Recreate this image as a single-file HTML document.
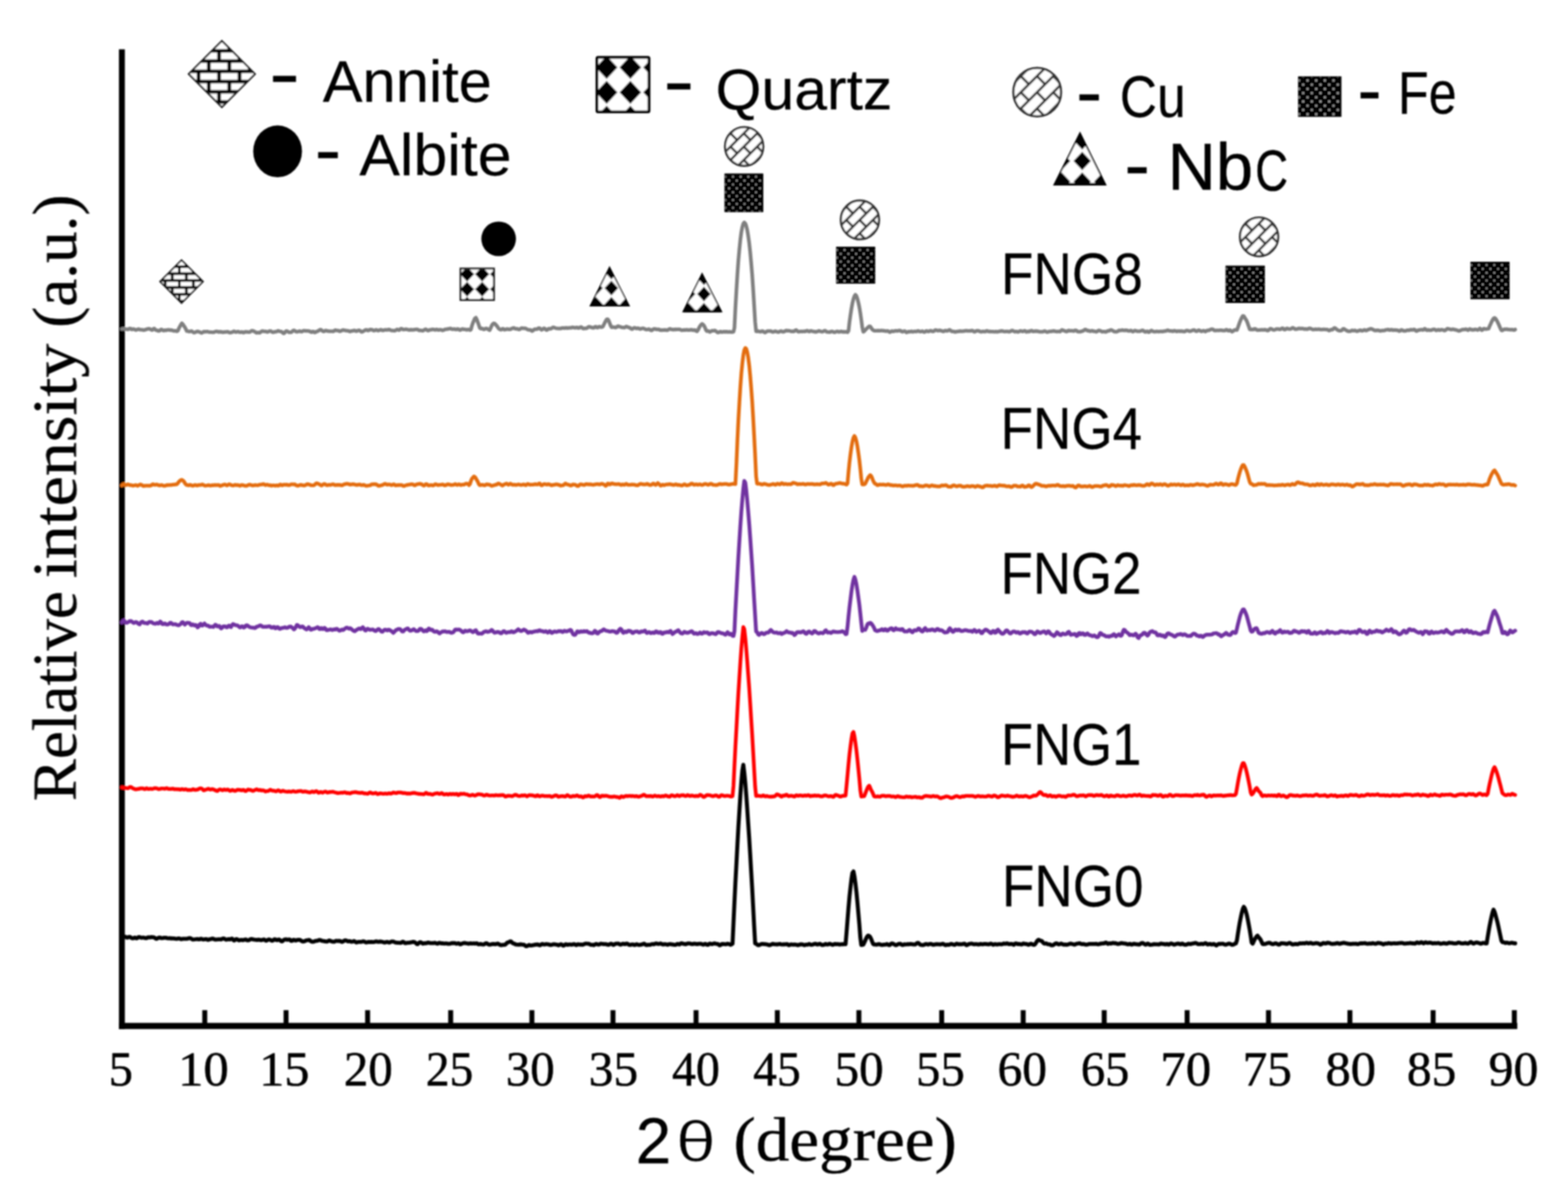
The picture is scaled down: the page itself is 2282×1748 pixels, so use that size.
<!DOCTYPE html>
<html lang="en">
<head>
<meta charset="utf-8">
<title>XRD patterns of FNG composites</title>
<style>
html,body{margin:0;padding:0;background:#fff;}
body{width:2282px;height:1748px;overflow:hidden;}
svg{display:block;}
text{font-size:100px;fill:#000;stroke:#000;stroke-linejoin:round;}
.sans{font-family:"Liberation Sans",sans-serif;stroke-width:0.35px;}
.serif{font-family:"Liberation Serif",serif;stroke-width:1px;}
.tr{fill:none;stroke-linejoin:round;stroke-linecap:round;}
</style>
</head>
<body>
<svg width="2282" height="1748" viewBox="0 0 2282 1748">
<rect x="0" y="0" width="2282" height="1748" fill="#fff"/>
<defs>
<filter id="soft" x="0" y="0" width="2282" height="1748" filterUnits="userSpaceOnUse"><feGaussianBlur stdDeviation="0.9"/></filter>
<pattern id="bk1" patternUnits="userSpaceOnUse" x="318.80" y="74.00" width="29.80" height="29.80"><rect width="29.80" height="29.80" fill="#fff"/><path d="M0 0H29.80M0 14.90H29.80M0 29.80H29.80M0 0V14.90M29.80 0V14.90M14.90 14.90V29.80" stroke="#000" stroke-width="5.2" fill="none"/></pattern>
<pattern id="dm2" patternUnits="userSpaceOnUse" x="865.65" y="79.95" width="34.50" height="36.30"><rect width="34.50" height="36.30" fill="#fff"/><path d="M17.25 1.35L32.85 18.15L17.25 34.95L1.65 18.15Z" fill="#000"/></pattern>
<pattern id="db3" patternUnits="userSpaceOnUse" x="1497.40" y="122.60" width="23.60" height="23.60"><rect width="23.60" height="23.60" fill="#fff"/><path d="M-3 26.6L26.6 -3M-14.80 14.80L14.80 -14.80M8.80 38.40L38.40 8.80M11.80 11.80L23.60 23.60M-11.80 -11.80L0 0" stroke="#333" stroke-width="3.5" fill="none"/></pattern>
<pattern id="dt4" patternUnits="userSpaceOnUse" x="1899.75" y="114.03" width="12.60" height="12.26"><rect width="12.60" height="12.26" fill="#000"/><rect x="1.65" y="1.56" width="3.0" height="3.0" fill="#b0b0b0"/><rect x="7.95" y="7.70" width="3.0" height="3.0" fill="#b0b0b0"/></pattern>
<pattern id="dm5" patternUnits="userSpaceOnUse" x="1560.00" y="219.30" width="30.00" height="30.00"><rect width="30.00" height="30.00" fill="#fff"/><path d="M15.00 1.80L27.60 15.00L15.00 28.20L2.40 15.00Z" fill="#000"/></pattern>
<pattern id="bk6" patternUnits="userSpaceOnUse" x="240.45" y="388.20" width="20.50" height="20.10"><rect width="20.50" height="20.10" fill="#fff"/><path d="M0 0H20.50M0 10.05H20.50M0 20.10H20.50M0 0V10.05M20.50 0V10.05M10.25 10.05V20.10" stroke="#000" stroke-width="3.9" fill="none"/></pattern>
<pattern id="dm7" patternUnits="userSpaceOnUse" x="668.85" y="388.05" width="21.90" height="21.90"><rect width="21.90" height="21.90" fill="#fff"/><path d="M10.95 0.35L21.15 10.95L10.95 21.55L0.75 10.95Z" fill="#000"/></pattern>
<pattern id="dm8" patternUnits="userSpaceOnUse" x="878.55" y="407.50" width="22.50" height="23.60"><rect width="22.50" height="23.60" fill="#fff"/><path d="M11.25 1.20L21.05 11.80L11.25 22.40L1.45 11.80Z" fill="#000"/></pattern>
<pattern id="dm9" patternUnits="userSpaceOnUse" x="1013.25" y="416.10" width="22.50" height="23.60"><rect width="22.50" height="23.60" fill="#fff"/><path d="M11.25 1.20L21.05 11.80L11.25 22.40L1.45 11.80Z" fill="#000"/></pattern>
<pattern id="db10" patternUnits="userSpaceOnUse" x="1072.83" y="203.82" width="19.35" height="19.35"><rect width="19.35" height="19.35" fill="#fff"/><path d="M-3 22.35L22.35 -3M-12.68 12.68L12.68 -12.68M6.68 32.03L32.03 6.68M9.68 9.68L19.35 19.35M-9.68 -9.68L0 0" stroke="#333" stroke-width="3.4" fill="none"/></pattern>
<pattern id="db11" patternUnits="userSpaceOnUse" x="1241.33" y="310.62" width="19.35" height="19.35"><rect width="19.35" height="19.35" fill="#fff"/><path d="M-3 22.35L22.35 -3M-12.68 12.68L12.68 -12.68M6.68 32.03L32.03 6.68M9.68 9.68L19.35 19.35M-9.68 -9.68L0 0" stroke="#333" stroke-width="3.4" fill="none"/></pattern>
<pattern id="db12" patternUnits="userSpaceOnUse" x="1822.23" y="335.32" width="19.35" height="19.35"><rect width="19.35" height="19.35" fill="#fff"/><path d="M-3 22.35L22.35 -3M-12.68 12.68L12.68 -12.68M6.68 32.03L32.03 6.68M9.68 9.68L19.35 19.35M-9.68 -9.68L0 0" stroke="#333" stroke-width="3.4" fill="none"/></pattern>
<pattern id="dt13" patternUnits="userSpaceOnUse" x="1063.90" y="254.38" width="11.20" height="11.30"><rect width="11.20" height="11.30" fill="#000"/><rect x="1.55" y="1.58" width="2.5" height="2.5" fill="#b0b0b0"/><rect x="7.15" y="7.23" width="2.5" height="2.5" fill="#b0b0b0"/></pattern>
<pattern id="dt14" patternUnits="userSpaceOnUse" x="1226.30" y="360.98" width="11.20" height="11.30"><rect width="11.20" height="11.30" fill="#000"/><rect x="1.55" y="1.58" width="2.5" height="2.5" fill="#b0b0b0"/><rect x="7.15" y="7.23" width="2.5" height="2.5" fill="#b0b0b0"/></pattern>
<pattern id="dt15" patternUnits="userSpaceOnUse" x="1793.10" y="388.48" width="11.20" height="11.30"><rect width="11.20" height="11.30" fill="#000"/><rect x="1.55" y="1.58" width="2.5" height="2.5" fill="#b0b0b0"/><rect x="7.15" y="7.23" width="2.5" height="2.5" fill="#b0b0b0"/></pattern>
<pattern id="dt16" patternUnits="userSpaceOnUse" x="2149.50" y="382.88" width="11.20" height="11.30"><rect width="11.20" height="11.30" fill="#000"/><rect x="1.55" y="1.58" width="2.5" height="2.5" fill="#b0b0b0"/><rect x="7.15" y="7.23" width="2.5" height="2.5" fill="#b0b0b0"/></pattern>
</defs>
<g id="chart" filter="url(#soft)">

<g id="axes" stroke="#000" fill="none">
<path d="M177.4 71.8V1497.8" stroke-width="8.6"/>
<path d="M173.1 1493.3H2208.2" stroke-width="9"/>
<path d="M298.0 1470.3V1493.3M416.3 1470.3V1493.3M535.0 1470.3V1493.3M655.9 1470.3V1493.3M774.1 1470.3V1493.3M892.1 1470.3V1493.3M1013.0 1470.3V1493.3M1131.3 1470.3V1493.3M1250.0 1470.3V1493.3M1370.5 1470.3V1493.3M1489.1 1470.3V1493.3M1607.0 1470.3V1493.3M1727.7 1470.3V1493.3M1846.1 1470.3V1493.3M1964.6 1470.3V1493.3M2085.7 1470.3V1493.3M2203.9 1470.3V1493.3" stroke-width="7.2"/>
</g>
<g id="ticklabels">
<text class="serif" transform="matrix(0.7037 0 0 0.7220 158.33 1580.3)">5</text>
<text class="serif" transform="matrix(0.7374 0 0 0.7220 259.16 1580.3)">10</text>
<text class="serif" transform="matrix(0.7316 0 0 0.7220 377.22 1580.3)">15</text>
<text class="serif" transform="matrix(0.7109 0 0 0.7220 500.46 1580.3)">20</text>
<text class="serif" transform="matrix(0.6913 0 0 0.7220 619.73 1580.3)">25</text>
<text class="serif" transform="matrix(0.7099 0 0 0.7220 736.35 1580.3)">30</text>
<text class="serif" transform="matrix(0.7209 0 0 0.7220 856.70 1580.3)">35</text>
<text class="serif" transform="matrix(0.6984 0 0 0.7220 977.90 1580.3)">40</text>
<text class="serif" transform="matrix(0.6904 0 0 0.7220 1096.17 1580.3)">45</text>
<text class="serif" transform="matrix(0.7156 0 0 0.7220 1214.51 1580.3)">50</text>
<text class="serif" transform="matrix(0.7072 0 0 0.7220 1333.31 1580.3)">55</text>
<text class="serif" transform="matrix(0.7207 0 0 0.7220 1451.82 1580.3)">60</text>
<text class="serif" transform="matrix(0.7076 0 0 0.7220 1572.97 1580.3)">65</text>
<text class="serif" transform="matrix(0.7404 0 0 0.7220 1688.82 1580.3)">70</text>
<text class="serif" transform="matrix(0.7169 0 0 0.7220 1808.48 1580.3)">75</text>
<text class="serif" transform="matrix(0.7370 0 0 0.7220 1928.95 1580.3)">80</text>
<text class="serif" transform="matrix(0.7196 0 0 0.7220 2047.42 1580.3)">85</text>
<text class="serif" transform="matrix(0.7237 0 0 0.7220 2166.53 1580.3)">90</text>
</g>
<text id="xtitle" class="serif"><tspan class="sans" x="925.37" y="1692.60" textLength="51.51" lengthAdjust="spacingAndGlyphs" style="font-size:94.00px;stroke-width:0.5px;">2</tspan><tspan class="serif" x="987.17" y="1689.20" textLength="51.00" lengthAdjust="spacingAndGlyphs" style="font-size:89.50px;stroke-width:0.9px;">ϴ</tspan> <tspan class="serif" x="1067.50" y="1689.30" textLength="325.07" lengthAdjust="spacingAndGlyphs" style="font-size:90.00px;stroke-width:0.5px;">(degree)</tspan></text>
<text id="ytitle" class="serif" transform="translate(110.5 0) rotate(-90)"><tspan class="serif" x="-1165.95" y="0.00" textLength="305.69" lengthAdjust="spacingAndGlyphs" style="font-size:92.00px;stroke-width:0.6px;">Relative</tspan> <tspan class="serif" x="-841.58" y="0.00" textLength="341.42" lengthAdjust="spacingAndGlyphs" style="font-size:92.00px;stroke-width:0.6px;">intensity</tspan> <tspan class="serif" x="-477.08" y="0.00" textLength="193.95" lengthAdjust="spacingAndGlyphs" style="font-size:92.00px;stroke-width:0.6px;">(a.u.)</tspan></text>
<path id="fng0" class="tr" stroke="#000000" stroke-width="5.8" d="M177.4 1364.1L178.8 1364.5L180.3 1363.7L181.7 1363.3L183.1 1363.8L184.6 1364.6L186.0 1364.5L187.4 1363.6L188.8 1363.6L190.3 1364.5L191.7 1365.3L193.1 1365.6L194.6 1365.3L196.0 1364.6L197.4 1365.1L198.9 1365.7L200.3 1365.0L201.7 1363.9L203.2 1364.0L204.6 1364.5L206.0 1364.8L207.5 1364.6L208.9 1364.7L210.3 1365.0L211.7 1365.4L213.2 1365.4L214.6 1364.6L216.0 1364.2L217.5 1364.3L218.9 1364.3L220.3 1363.9L221.8 1364.1L223.2 1364.2L224.6 1364.5L226.1 1365.7L227.5 1366.4L228.9 1366.0L230.3 1365.0L231.8 1364.6L233.2 1364.7L234.6 1365.3L236.1 1365.4L237.5 1365.2L238.9 1364.9L240.4 1364.8L241.8 1364.9L243.2 1365.5L244.7 1365.7L246.1 1365.6L247.5 1365.4L249.0 1365.9L250.4 1365.7L251.8 1365.8L253.2 1365.9L254.7 1366.2L256.1 1366.4L257.5 1366.4L259.0 1365.9L260.4 1365.8L261.8 1366.2L263.3 1366.9L264.7 1366.8L266.1 1366.4L267.6 1366.3L269.0 1366.4L270.4 1366.4L271.8 1366.4L273.3 1366.0L274.7 1365.6L276.1 1365.4L277.6 1365.8L279.0 1366.6L280.4 1367.3L281.9 1367.3L283.3 1367.2L284.7 1367.0L286.2 1366.8L287.6 1366.7L289.0 1367.1L290.4 1367.2L291.9 1366.5L293.3 1366.5L294.7 1367.1L296.2 1367.3L297.6 1367.2L299.0 1366.8L300.5 1366.8L301.9 1367.7L303.3 1367.9L304.8 1367.2L306.2 1366.9L307.6 1366.6L309.1 1366.1L310.5 1366.4L311.9 1367.1L313.3 1367.5L314.8 1367.4L316.2 1367.3L317.6 1367.2L319.1 1367.1L320.5 1367.1L321.9 1367.3L323.4 1366.4L324.8 1365.8L326.2 1366.0L327.7 1366.9L329.1 1367.7L330.5 1367.5L331.9 1367.0L333.4 1367.0L334.8 1367.3L336.2 1366.5L337.7 1366.1L339.1 1367.6L340.5 1368.9L342.0 1368.1L343.4 1366.9L344.8 1366.8L346.3 1367.9L347.7 1368.6L349.1 1368.3L350.6 1368.0L352.0 1368.1L353.4 1368.4L354.8 1368.0L356.3 1367.6L357.7 1367.3L359.1 1368.2L360.6 1368.7L362.0 1368.5L363.4 1367.6L364.9 1366.8L366.3 1366.7L367.7 1367.1L369.2 1367.5L370.6 1367.7L372.0 1367.8L373.4 1368.0L374.9 1368.0L376.3 1367.7L377.7 1367.9L379.2 1368.3L380.6 1368.3L382.0 1367.9L383.5 1367.4L384.9 1367.7L386.3 1368.8L387.8 1369.1L389.2 1368.2L390.6 1367.4L392.1 1367.4L393.5 1367.9L394.9 1368.8L396.3 1369.1L397.8 1368.5L399.2 1367.1L400.6 1367.1L402.1 1368.2L403.5 1368.3L404.9 1367.6L406.4 1367.5L407.8 1368.6L409.2 1369.9L410.7 1370.0L412.1 1368.9L413.5 1367.8L414.9 1367.3L416.4 1367.2L417.8 1367.8L419.2 1367.7L420.7 1367.3L422.1 1367.8L423.5 1369.4L425.0 1369.4L426.4 1368.1L427.8 1367.9L429.3 1368.7L430.7 1368.9L432.1 1368.2L433.5 1368.0L435.0 1367.9L436.4 1367.9L437.8 1368.8L439.3 1369.8L440.7 1370.3L442.1 1370.2L443.6 1369.7L445.0 1368.9L446.4 1368.7L447.9 1368.5L449.3 1368.1L450.7 1368.4L452.2 1369.7L453.6 1370.5L455.0 1370.6L456.4 1370.5L457.9 1369.9L459.3 1369.4L460.7 1369.3L462.2 1369.1L463.6 1368.5L465.0 1368.1L466.5 1368.3L467.9 1369.1L469.3 1369.5L470.8 1369.7L472.2 1370.0L473.6 1370.1L475.0 1370.3L476.5 1370.3L477.9 1369.2L479.3 1368.8L480.8 1369.4L482.2 1370.0L483.6 1370.3L485.1 1370.6L486.5 1370.6L487.9 1369.9L489.4 1369.3L490.8 1369.5L492.2 1369.6L493.7 1369.3L495.1 1369.7L496.5 1370.4L497.9 1370.9L499.4 1370.3L500.8 1369.2L502.2 1368.6L503.7 1368.8L505.1 1369.5L506.5 1370.1L508.0 1369.8L509.4 1369.9L510.8 1370.5L512.3 1370.6L513.7 1370.2L515.1 1369.7L516.5 1370.4L518.0 1371.5L519.4 1371.5L520.8 1371.0L522.3 1370.8L523.7 1370.9L525.1 1370.8L526.6 1370.6L528.0 1370.2L529.4 1370.1L530.9 1370.7L532.3 1371.6L533.7 1371.7L535.1 1371.1L536.6 1370.9L538.0 1371.1L539.4 1371.0L540.9 1370.9L542.3 1371.1L543.7 1371.2L545.2 1370.8L546.6 1370.4L548.0 1370.2L549.5 1370.7L550.9 1370.8L552.3 1370.5L553.8 1370.4L555.2 1370.7L556.6 1370.8L558.0 1371.4L559.5 1371.8L560.9 1371.6L562.3 1371.1L563.8 1371.0L565.2 1371.5L566.6 1371.8L568.1 1371.2L569.5 1370.5L570.9 1370.4L572.4 1370.3L573.8 1371.0L575.2 1371.7L576.6 1371.9L578.1 1372.1L579.5 1372.2L580.9 1372.2L582.4 1372.3L583.8 1372.2L585.2 1371.1L586.7 1370.6L588.1 1371.5L589.5 1372.7L591.0 1372.7L592.4 1372.2L593.8 1372.2L595.3 1372.2L596.7 1371.7L598.1 1371.7L599.5 1371.3L601.0 1370.9L602.4 1370.9L603.8 1371.5L605.3 1372.6L606.7 1374.0L608.1 1374.0L609.6 1372.5L611.0 1371.4L612.4 1371.4L613.9 1372.4L615.3 1373.4L616.7 1373.2L618.1 1372.7L619.6 1372.9L621.0 1372.6L622.4 1371.9L623.9 1371.9L625.3 1372.5L626.7 1372.7L628.2 1372.7L629.6 1372.7L631.0 1372.6L632.5 1372.2L633.9 1372.5L635.3 1373.2L636.8 1373.5L638.2 1372.6L639.6 1372.2L641.0 1372.6L642.5 1373.0L643.9 1372.9L645.3 1373.2L646.8 1373.3L648.2 1373.1L649.6 1373.2L651.1 1373.5L652.5 1373.6L653.9 1373.6L655.4 1373.4L656.8 1372.8L658.2 1372.5L659.6 1372.8L661.1 1372.5L662.5 1372.8L663.9 1373.6L665.4 1373.4L666.8 1372.8L668.2 1373.3L669.7 1374.4L671.1 1374.1L672.5 1373.2L674.0 1372.8L675.4 1372.5L676.8 1372.5L678.2 1372.8L679.7 1373.0L681.1 1373.4L682.5 1373.6L684.0 1373.1L685.4 1373.0L686.8 1373.3L688.3 1373.2L689.7 1373.0L691.1 1373.3L692.6 1373.1L694.0 1373.0L695.4 1373.9L696.9 1374.4L698.3 1374.1L699.7 1373.9L701.1 1374.5L702.6 1374.7L704.0 1374.6L705.4 1373.9L706.9 1372.9L708.3 1372.9L709.7 1373.9L711.2 1374.6L712.6 1374.9L714.0 1374.6L715.5 1374.2L716.9 1374.0L718.3 1374.0L719.7 1374.1L721.2 1374.3L722.6 1373.9L724.0 1373.3L725.5 1373.8L726.9 1374.8L728.3 1375.6L729.8 1375.5L731.2 1375.4L732.6 1375.2L734.1 1375.1L735.5 1374.7L736.9 1373.2L738.4 1371.9L739.8 1371.5L741.2 1370.8L742.6 1370.1L744.1 1370.6L745.5 1372.2L746.9 1373.2L748.4 1373.3L749.8 1374.4L751.2 1374.7L752.7 1374.9L754.1 1374.8L755.5 1375.0L757.0 1374.4L758.4 1374.5L759.8 1374.9L761.2 1374.8L762.7 1375.1L764.1 1376.1L765.5 1377.1L767.0 1377.1L768.4 1376.3L769.8 1375.3L771.3 1375.8L772.7 1376.1L774.1 1375.9L775.6 1375.6L777.0 1375.4L778.4 1375.0L779.9 1374.9L781.3 1374.6L782.7 1374.7L784.1 1375.4L785.6 1375.8L787.0 1375.1L788.4 1374.1L789.9 1374.0L791.3 1374.7L792.7 1374.7L794.2 1374.2L795.6 1374.2L797.0 1374.3L798.5 1374.6L799.9 1375.1L801.3 1375.4L802.7 1375.2L804.2 1374.8L805.6 1374.3L807.0 1374.4L808.5 1374.7L809.9 1374.9L811.3 1375.1L812.8 1375.8L814.2 1375.2L815.6 1374.4L817.1 1374.4L818.5 1375.6L819.9 1376.3L821.4 1375.6L822.8 1374.5L824.2 1374.5L825.6 1375.1L827.1 1375.0L828.5 1374.7L829.9 1374.7L831.4 1375.0L832.8 1374.8L834.2 1374.3L835.7 1374.1L837.1 1374.8L838.5 1375.5L840.0 1374.8L841.4 1374.3L842.8 1374.7L844.2 1374.9L845.7 1374.7L847.1 1375.0L848.5 1374.9L850.0 1374.3L851.4 1373.5L852.8 1373.3L854.3 1373.5L855.7 1373.7L857.1 1373.7L858.6 1374.6L860.0 1375.2L861.4 1375.1L862.8 1375.2L864.3 1375.6L865.7 1374.7L867.1 1373.9L868.6 1374.1L870.0 1374.7L871.4 1374.8L872.9 1374.3L874.3 1373.5L875.7 1373.7L877.2 1373.8L878.6 1374.1L880.0 1374.1L881.5 1374.2L882.9 1374.4L884.3 1374.9L885.7 1375.0L887.2 1374.3L888.6 1373.7L890.0 1373.6L891.5 1374.8L892.9 1375.3L894.3 1374.5L895.8 1373.6L897.2 1373.5L898.6 1373.3L900.1 1373.4L901.5 1374.3L902.9 1374.9L904.3 1374.5L905.8 1373.7L907.2 1373.6L908.6 1374.0L910.1 1374.1L911.5 1373.4L912.9 1373.4L914.4 1374.4L915.8 1375.2L917.2 1375.3L918.7 1374.8L920.1 1374.6L921.5 1374.6L923.0 1375.3L924.4 1375.3L925.8 1374.5L927.2 1374.5L928.7 1375.0L930.1 1375.3L931.5 1375.2L933.0 1374.9L934.4 1374.4L935.8 1373.9L937.3 1373.4L938.7 1374.3L940.1 1375.3L941.6 1375.5L943.0 1375.1L944.4 1375.1L945.8 1375.1L947.3 1374.7L948.7 1374.1L950.1 1374.1L951.6 1374.3L953.0 1373.8L954.4 1373.2L955.9 1373.4L957.3 1373.8L958.7 1373.8L960.2 1373.5L961.6 1373.2L963.0 1374.0L964.5 1374.6L965.9 1374.5L967.3 1374.2L968.7 1374.3L970.2 1374.5L971.6 1375.0L973.0 1374.5L974.5 1374.1L975.9 1374.2L977.3 1374.5L978.8 1374.6L980.2 1374.9L981.6 1375.1L983.1 1375.2L984.5 1374.6L985.9 1373.8L987.3 1374.2L988.8 1374.6L990.2 1373.6L991.6 1372.9L993.1 1373.2L994.5 1373.6L995.9 1373.9L997.4 1374.3L998.8 1374.0L1000.2 1373.4L1001.7 1373.2L1003.1 1373.1L1004.5 1373.3L1005.9 1373.9L1007.4 1374.0L1008.8 1373.9L1010.2 1373.5L1011.7 1373.6L1013.1 1373.8L1014.5 1374.1L1016.0 1373.8L1017.4 1373.6L1018.8 1373.6L1020.3 1373.7L1021.7 1374.3L1023.1 1374.8L1024.6 1374.6L1026.0 1373.7L1027.4 1374.1L1028.8 1374.9L1030.3 1375.2L1031.7 1374.1L1033.1 1373.3L1034.6 1373.7L1036.0 1374.1L1037.4 1373.7L1038.9 1373.2L1040.3 1373.1L1041.7 1373.5L1043.2 1373.8L1044.6 1373.8L1046.0 1374.8L1047.4 1375.8L1048.9 1375.2L1050.3 1374.1L1051.7 1373.9L1053.2 1374.1L1054.6 1374.2L1056.0 1374.4L1057.5 1374.1L1058.9 1373.6L1060.3 1373.8L1061.8 1374.4L1063.2 1375.0L1064.6 1374.5L1066.1 1373.6L1067.5 1343.0L1068.9 1313.1L1070.3 1284.2L1071.8 1256.3L1073.2 1229.5L1074.6 1203.9L1076.1 1180.0L1077.5 1158.0L1078.9 1138.4L1080.4 1121.6L1081.8 1113.2L1083.2 1124.6L1084.7 1140.0L1086.1 1157.7L1087.5 1177.4L1088.9 1198.4L1090.4 1220.4L1091.8 1243.6L1093.2 1268.0L1094.7 1293.5L1096.1 1319.9L1097.5 1346.7L1099.0 1373.2L1100.4 1373.5L1101.8 1374.8L1103.3 1375.6L1104.7 1375.5L1106.1 1374.9L1107.6 1374.3L1109.0 1373.9L1110.4 1373.9L1111.8 1374.1L1113.3 1374.1L1114.7 1374.3L1116.1 1374.5L1117.6 1375.1L1119.0 1375.6L1120.4 1375.5L1121.9 1375.0L1123.3 1374.2L1124.7 1373.7L1126.2 1374.2L1127.6 1374.4L1129.0 1374.4L1130.4 1374.5L1131.9 1374.5L1133.3 1374.2L1134.7 1373.8L1136.2 1374.3L1137.6 1374.7L1139.0 1374.6L1140.5 1374.4L1141.9 1374.5L1143.3 1374.3L1144.8 1374.1L1146.2 1374.4L1147.6 1375.5L1149.0 1375.5L1150.5 1374.7L1151.9 1374.5L1153.3 1374.8L1154.8 1374.8L1156.2 1374.7L1157.6 1374.8L1159.1 1375.0L1160.5 1375.5L1161.9 1375.5L1163.4 1374.9L1164.8 1374.4L1166.2 1374.3L1167.7 1374.6L1169.1 1375.1L1170.5 1375.7L1171.9 1375.2L1173.4 1374.8L1174.8 1375.0L1176.2 1374.7L1177.7 1374.0L1179.1 1374.6L1180.5 1375.2L1182.0 1375.0L1183.4 1374.5L1184.8 1374.0L1186.3 1373.6L1187.7 1373.9L1189.1 1374.6L1190.5 1374.6L1192.0 1373.8L1193.4 1373.7L1194.8 1374.6L1196.3 1375.3L1197.7 1375.3L1199.1 1375.0L1200.6 1374.3L1202.0 1373.9L1203.4 1374.7L1204.9 1374.7L1206.3 1373.9L1207.7 1373.6L1209.2 1374.2L1210.6 1374.8L1212.0 1375.2L1213.4 1374.5L1214.9 1373.9L1216.3 1374.3L1217.7 1374.1L1219.2 1374.1L1220.6 1374.4L1222.0 1374.8L1223.5 1374.4L1224.9 1374.4L1226.3 1374.2L1227.8 1374.3L1229.2 1373.9L1230.6 1374.2L1232.0 1357.6L1233.5 1338.5L1234.9 1320.9L1236.3 1305.1L1237.8 1291.2L1239.2 1279.3L1240.6 1270.4L1242.1 1268.4L1243.5 1275.3L1244.9 1285.4L1246.4 1298.1L1247.8 1312.7L1249.2 1328.7L1250.7 1346.0L1252.1 1364.7L1253.5 1375.3L1254.9 1375.3L1256.4 1374.8L1257.8 1372.1L1259.2 1369.0L1260.7 1365.5L1262.1 1363.0L1263.5 1361.6L1265.0 1362.4L1266.4 1363.7L1267.8 1366.5L1269.3 1370.5L1270.7 1373.9L1272.1 1374.6L1273.5 1374.6L1275.0 1374.8L1276.4 1374.8L1277.8 1374.4L1279.3 1374.1L1280.7 1374.6L1282.1 1375.0L1283.6 1375.4L1285.0 1375.2L1286.4 1374.9L1287.9 1374.9L1289.3 1374.7L1290.7 1374.0L1292.1 1374.7L1293.6 1375.6L1295.0 1375.4L1296.4 1373.9L1297.9 1373.2L1299.3 1373.4L1300.7 1374.1L1302.2 1375.0L1303.6 1375.7L1305.0 1375.5L1306.5 1374.4L1307.9 1373.8L1309.3 1373.6L1310.8 1373.9L1312.2 1375.0L1313.6 1375.4L1315.0 1374.9L1316.5 1374.3L1317.9 1374.7L1319.3 1374.5L1320.8 1374.2L1322.2 1374.5L1323.6 1374.2L1325.1 1373.8L1326.5 1374.2L1327.9 1374.4L1329.4 1374.5L1330.8 1374.7L1332.2 1374.6L1333.6 1373.4L1335.1 1372.3L1336.5 1372.3L1337.9 1373.7L1339.4 1374.9L1340.8 1375.3L1342.2 1375.5L1343.7 1375.4L1345.1 1375.0L1346.5 1374.2L1348.0 1374.0L1349.4 1374.3L1350.8 1374.8L1352.3 1374.3L1353.7 1373.8L1355.1 1373.8L1356.5 1374.6L1358.0 1375.0L1359.4 1374.9L1360.8 1374.5L1362.3 1374.4L1363.7 1374.2L1365.1 1374.3L1366.6 1374.4L1368.0 1374.7L1369.4 1374.4L1370.9 1373.9L1372.3 1373.7L1373.7 1374.2L1375.1 1375.4L1376.6 1375.5L1378.0 1375.0L1379.4 1375.0L1380.9 1375.2L1382.3 1374.4L1383.7 1373.9L1385.2 1374.0L1386.6 1374.5L1388.0 1374.9L1389.5 1375.2L1390.9 1374.2L1392.3 1373.4L1393.8 1374.0L1395.2 1374.4L1396.6 1374.1L1398.0 1374.4L1399.5 1374.4L1400.9 1374.0L1402.3 1373.7L1403.8 1373.5L1405.2 1374.7L1406.6 1375.7L1408.1 1375.3L1409.5 1374.2L1410.9 1373.9L1412.4 1373.5L1413.8 1373.3L1415.2 1373.7L1416.6 1374.1L1418.1 1374.4L1419.5 1374.1L1420.9 1374.2L1422.4 1374.3L1423.8 1374.6L1425.2 1374.5L1426.7 1374.0L1428.1 1374.0L1429.5 1374.3L1431.0 1374.3L1432.4 1373.9L1433.8 1373.9L1435.2 1374.0L1436.7 1374.2L1438.1 1374.5L1439.5 1374.3L1441.0 1373.6L1442.4 1373.5L1443.8 1374.2L1445.3 1375.0L1446.7 1374.5L1448.1 1374.1L1449.6 1374.3L1451.0 1374.6L1452.4 1374.5L1453.9 1374.2L1455.3 1374.1L1456.7 1374.3L1458.1 1374.4L1459.6 1373.8L1461.0 1373.2L1462.4 1373.6L1463.9 1373.6L1465.3 1373.0L1466.7 1373.3L1468.2 1374.1L1469.6 1374.1L1471.0 1373.8L1472.5 1373.8L1473.9 1374.6L1475.3 1375.1L1476.7 1374.0L1478.2 1373.1L1479.6 1373.4L1481.0 1374.0L1482.5 1374.0L1483.9 1373.9L1485.3 1374.4L1486.8 1374.7L1488.2 1373.9L1489.6 1373.2L1491.1 1373.6L1492.5 1374.0L1493.9 1373.8L1495.4 1374.5L1496.8 1375.1L1498.2 1374.6L1499.6 1373.6L1501.1 1373.6L1502.5 1374.5L1503.9 1375.0L1505.4 1375.1L1506.8 1373.8L1508.2 1371.5L1509.7 1369.1L1511.1 1367.9L1512.5 1368.2L1514.0 1369.0L1515.4 1369.3L1516.8 1370.2L1518.2 1372.1L1519.7 1373.4L1521.1 1373.3L1522.5 1373.0L1524.0 1373.8L1525.4 1374.4L1526.8 1374.4L1528.3 1374.6L1529.7 1375.7L1531.1 1375.8L1532.6 1375.6L1534.0 1374.6L1535.4 1373.6L1536.9 1373.0L1538.3 1373.2L1539.7 1374.1L1541.1 1374.5L1542.6 1373.9L1544.0 1373.3L1545.4 1373.8L1546.9 1374.5L1548.3 1374.8L1549.7 1374.6L1551.2 1374.9L1552.6 1375.0L1554.0 1374.7L1555.5 1374.2L1556.9 1373.6L1558.3 1373.4L1559.7 1373.8L1561.2 1374.0L1562.6 1374.7L1564.0 1374.8L1565.5 1374.2L1566.9 1373.5L1568.3 1373.3L1569.8 1373.1L1571.2 1372.8L1572.6 1373.5L1574.1 1374.1L1575.5 1374.1L1576.9 1374.0L1578.3 1374.3L1579.8 1374.8L1581.2 1374.8L1582.6 1374.6L1584.1 1374.2L1585.5 1373.8L1586.9 1373.8L1588.4 1373.8L1589.8 1373.9L1591.2 1373.9L1592.7 1373.9L1594.1 1373.9L1595.5 1373.7L1597.0 1374.1L1598.4 1374.4L1599.8 1374.0L1601.2 1373.5L1602.7 1373.5L1604.1 1373.2L1605.5 1373.0L1607.0 1373.0L1608.4 1372.1L1609.8 1371.8L1611.3 1373.2L1612.7 1373.8L1614.1 1373.0L1615.6 1373.1L1617.0 1373.3L1618.4 1372.8L1619.8 1372.4L1621.3 1372.8L1622.7 1372.7L1624.1 1372.9L1625.6 1373.4L1627.0 1373.9L1628.4 1373.7L1629.9 1373.2L1631.3 1372.7L1632.7 1372.6L1634.2 1373.0L1635.6 1373.2L1637.0 1373.4L1638.5 1373.4L1639.9 1373.9L1641.3 1374.4L1642.7 1374.3L1644.2 1373.7L1645.6 1374.1L1647.0 1374.8L1648.5 1374.4L1649.9 1373.7L1651.3 1373.7L1652.8 1374.2L1654.2 1374.4L1655.6 1374.4L1657.1 1374.8L1658.5 1374.7L1659.9 1373.7L1661.3 1372.7L1662.8 1372.5L1664.2 1373.1L1665.6 1374.2L1667.1 1374.9L1668.5 1374.4L1669.9 1373.4L1671.4 1373.7L1672.8 1374.9L1674.2 1375.2L1675.7 1375.0L1677.1 1374.8L1678.5 1374.4L1680.0 1374.2L1681.4 1374.4L1682.8 1374.4L1684.2 1374.4L1685.7 1374.6L1687.1 1374.5L1688.5 1373.6L1690.0 1373.3L1691.4 1373.8L1692.8 1373.8L1694.3 1374.1L1695.7 1374.6L1697.1 1374.2L1698.6 1373.8L1700.0 1374.7L1701.4 1374.8L1702.8 1373.7L1704.3 1373.2L1705.7 1373.5L1707.1 1374.3L1708.6 1374.9L1710.0 1374.6L1711.4 1374.0L1712.9 1373.7L1714.3 1373.4L1715.7 1373.3L1717.2 1374.3L1718.6 1374.3L1720.0 1373.3L1721.4 1373.6L1722.9 1374.6L1724.3 1374.9L1725.7 1375.0L1727.2 1374.6L1728.6 1374.0L1730.0 1373.5L1731.5 1373.8L1732.9 1374.1L1734.3 1373.6L1735.8 1373.2L1737.2 1373.2L1738.6 1372.6L1740.1 1372.4L1741.5 1372.9L1742.9 1373.8L1744.3 1374.1L1745.8 1374.2L1747.2 1373.8L1748.6 1373.6L1750.1 1374.0L1751.5 1374.0L1752.9 1373.3L1754.4 1372.7L1755.8 1373.3L1757.2 1374.5L1758.7 1374.5L1760.1 1373.8L1761.5 1373.9L1762.9 1374.6L1764.4 1374.6L1765.8 1374.0L1767.2 1374.1L1768.7 1375.3L1770.1 1376.1L1771.5 1375.1L1773.0 1374.1L1774.4 1373.7L1775.8 1374.0L1777.3 1373.7L1778.7 1373.6L1780.1 1373.6L1781.6 1374.3L1783.0 1374.9L1784.4 1374.8L1785.8 1374.2L1787.3 1373.8L1788.7 1373.4L1790.1 1373.8L1791.6 1374.4L1793.0 1375.1L1794.4 1374.9L1795.9 1374.4L1797.3 1373.4L1798.7 1373.1L1800.2 1368.5L1801.6 1359.0L1803.0 1350.2L1804.4 1342.1L1805.9 1334.6L1807.3 1328.2L1808.7 1323.0L1810.2 1319.8L1811.6 1321.8L1813.0 1326.0L1814.5 1331.3L1815.9 1337.9L1817.3 1345.4L1818.8 1353.6L1820.2 1362.4L1821.6 1371.8L1823.1 1373.4L1824.5 1370.4L1825.9 1367.5L1827.3 1365.1L1828.8 1363.0L1830.2 1361.8L1831.6 1363.8L1833.1 1365.6L1834.5 1367.4L1835.9 1370.5L1837.4 1373.8L1838.8 1374.1L1840.2 1374.0L1841.7 1373.8L1843.1 1373.2L1844.5 1372.8L1845.9 1372.4L1847.4 1372.2L1848.8 1372.6L1850.2 1373.5L1851.7 1374.1L1853.1 1374.1L1854.5 1373.5L1856.0 1373.0L1857.4 1373.1L1858.8 1373.9L1860.3 1374.6L1861.7 1374.9L1863.1 1374.0L1864.5 1372.9L1866.0 1372.8L1867.4 1373.0L1868.8 1373.1L1870.3 1373.3L1871.7 1373.8L1873.1 1373.8L1874.6 1373.2L1876.0 1372.5L1877.4 1372.5L1878.9 1373.3L1880.3 1374.3L1881.7 1374.6L1883.2 1374.2L1884.6 1374.0L1886.0 1373.9L1887.4 1374.2L1888.9 1374.3L1890.3 1373.5L1891.7 1372.8L1893.2 1373.1L1894.6 1373.1L1896.0 1372.8L1897.5 1372.9L1898.9 1373.1L1900.3 1372.5L1901.8 1372.2L1903.2 1372.7L1904.6 1373.1L1906.0 1372.6L1907.5 1372.2L1908.9 1372.8L1910.3 1373.5L1911.8 1373.3L1913.2 1373.1L1914.6 1372.7L1916.1 1372.7L1917.5 1373.0L1918.9 1373.1L1920.4 1374.1L1921.8 1374.8L1923.2 1374.3L1924.7 1372.9L1926.1 1372.4L1927.5 1372.9L1928.9 1373.3L1930.4 1372.9L1931.8 1372.1L1933.2 1372.2L1934.7 1372.6L1936.1 1373.1L1937.5 1373.7L1939.0 1373.8L1940.4 1373.6L1941.8 1373.6L1943.3 1373.4L1944.7 1372.9L1946.1 1372.6L1947.5 1372.9L1949.0 1373.6L1950.4 1373.5L1951.8 1372.9L1953.3 1372.8L1954.7 1372.3L1956.1 1372.2L1957.6 1372.6L1959.0 1372.9L1960.4 1373.1L1961.9 1373.7L1963.3 1373.7L1964.7 1374.0L1966.2 1373.9L1967.6 1373.8L1969.0 1373.5L1970.4 1373.7L1971.9 1373.7L1973.3 1373.5L1974.7 1373.9L1976.2 1374.1L1977.6 1373.7L1979.0 1373.1L1980.5 1373.0L1981.9 1372.9L1983.3 1373.0L1984.8 1372.8L1986.2 1372.6L1987.6 1373.0L1989.0 1373.5L1990.5 1373.7L1991.9 1373.3L1993.3 1373.2L1994.8 1373.4L1996.2 1373.4L1997.6 1372.7L1999.1 1373.0L2000.5 1373.4L2001.9 1373.7L2003.4 1373.2L2004.8 1372.5L2006.2 1372.4L2007.6 1372.6L2009.1 1373.0L2010.5 1373.1L2011.9 1373.9L2013.4 1374.5L2014.8 1373.8L2016.2 1373.3L2017.7 1373.3L2019.1 1373.3L2020.5 1372.7L2022.0 1372.9L2023.4 1373.2L2024.8 1373.5L2026.3 1373.2L2027.7 1373.0L2029.1 1372.8L2030.5 1373.1L2032.0 1373.2L2033.4 1373.1L2034.8 1372.8L2036.3 1372.7L2037.7 1372.6L2039.1 1372.3L2040.6 1372.3L2042.0 1372.9L2043.4 1373.3L2044.9 1373.4L2046.3 1373.2L2047.7 1373.0L2049.1 1372.9L2050.6 1372.9L2052.0 1372.4L2053.4 1372.7L2054.9 1373.0L2056.3 1373.0L2057.7 1373.1L2059.2 1373.3L2060.6 1372.6L2062.0 1371.6L2063.5 1371.9L2064.9 1372.7L2066.3 1372.4L2067.8 1371.5L2069.2 1371.5L2070.6 1372.5L2072.0 1373.0L2073.5 1371.8L2074.9 1371.5L2076.3 1372.1L2077.8 1372.4L2079.2 1372.1L2080.6 1372.0L2082.1 1372.1L2083.5 1372.6L2084.9 1373.1L2086.4 1372.9L2087.8 1372.6L2089.2 1372.9L2090.6 1372.9L2092.1 1372.6L2093.5 1372.5L2094.9 1373.0L2096.4 1373.6L2097.8 1373.4L2099.2 1373.1L2100.7 1372.7L2102.1 1372.7L2103.5 1373.1L2105.0 1373.5L2106.4 1373.3L2107.8 1372.5L2109.2 1372.0L2110.7 1372.3L2112.1 1372.4L2113.5 1372.5L2115.0 1372.9L2116.4 1373.2L2117.8 1373.1L2119.3 1373.2L2120.7 1372.6L2122.1 1371.9L2123.6 1371.8L2125.0 1372.4L2126.4 1373.0L2127.9 1373.2L2129.3 1373.1L2130.7 1372.9L2132.1 1372.4L2133.6 1372.7L2135.0 1373.2L2136.4 1373.3L2137.9 1372.6L2139.3 1371.5L2140.7 1371.0L2142.2 1371.9L2143.6 1373.2L2145.0 1373.4L2146.5 1372.4L2147.9 1371.8L2149.3 1371.7L2150.7 1372.1L2152.2 1372.5L2153.6 1373.0L2155.0 1373.5L2156.5 1373.1L2157.9 1372.4L2159.3 1372.3L2160.8 1372.8L2162.2 1373.2L2163.6 1373.2L2165.1 1363.9L2166.5 1355.5L2167.9 1347.6L2169.4 1340.2L2170.8 1333.6L2172.2 1328.0L2173.6 1324.0L2175.1 1327.1L2176.5 1331.7L2177.9 1336.9L2179.4 1342.6L2180.8 1348.9L2182.2 1355.5L2183.7 1362.5L2185.1 1369.1L2186.5 1371.3L2188.0 1371.2L2189.4 1371.8L2190.8 1372.5L2192.2 1372.0L2193.7 1372.1L2195.1 1372.5L2196.5 1372.9L2198.0 1372.7L2199.4 1372.1L2200.8 1372.1L2202.3 1372.7L2203.7 1372.9L2205.1 1373.0"/>
<path id="fng1" class="tr" stroke="#ff0000" stroke-width="5.4" d="M177.4 1146.0L178.8 1146.3L180.3 1146.4L181.7 1146.9L183.1 1146.8L184.6 1147.1L186.0 1147.3L187.4 1146.7L188.8 1145.4L190.3 1145.4L191.7 1146.2L193.1 1147.2L194.6 1147.9L196.0 1148.4L197.4 1148.9L198.9 1148.8L200.3 1148.3L201.7 1148.3L203.2 1147.9L204.6 1147.4L206.0 1147.5L207.5 1147.4L208.9 1147.8L210.3 1148.5L211.7 1148.3L213.2 1147.2L214.6 1147.8L216.0 1148.4L217.5 1148.2L218.9 1147.9L220.3 1148.2L221.8 1148.2L223.2 1147.8L224.6 1147.3L226.1 1147.1L227.5 1147.2L228.9 1147.7L230.3 1148.5L231.8 1148.5L233.2 1148.1L234.6 1147.7L236.1 1147.6L237.5 1147.6L238.9 1148.0L240.4 1148.1L241.8 1147.2L243.2 1147.2L244.7 1148.2L246.1 1148.4L247.5 1148.2L249.0 1148.4L250.4 1148.0L251.8 1147.8L253.2 1148.5L254.7 1148.7L256.1 1148.5L257.5 1148.9L259.0 1148.7L260.4 1148.7L261.8 1149.3L263.3 1149.0L264.7 1148.4L266.1 1148.8L267.6 1149.3L269.0 1148.9L270.4 1148.7L271.8 1149.3L273.3 1149.9L274.7 1149.7L276.1 1149.7L277.6 1149.9L279.0 1149.7L280.4 1148.8L281.9 1148.8L283.3 1149.5L284.7 1149.7L286.2 1149.3L287.6 1149.2L289.0 1148.5L290.4 1147.7L291.9 1147.4L293.3 1147.7L294.7 1148.6L296.2 1150.2L297.6 1150.1L299.0 1149.4L300.5 1149.0L301.9 1148.4L303.3 1148.0L304.8 1148.7L306.2 1149.2L307.6 1148.7L309.1 1148.5L310.5 1148.9L311.9 1149.6L313.3 1150.1L314.8 1151.0L316.2 1151.2L317.6 1150.2L319.1 1149.1L320.5 1149.0L321.9 1149.4L323.4 1150.2L324.8 1149.9L326.2 1149.0L327.7 1149.6L329.1 1149.8L330.5 1149.2L331.9 1149.2L333.4 1150.4L334.8 1151.1L336.2 1150.7L337.7 1149.6L339.1 1150.1L340.5 1150.6L342.0 1151.1L343.4 1150.7L344.8 1149.9L346.3 1149.4L347.7 1149.7L349.1 1149.6L350.6 1150.1L352.0 1150.4L353.4 1149.6L354.8 1149.6L356.3 1151.0L357.7 1151.3L359.1 1150.5L360.6 1149.3L362.0 1149.3L363.4 1149.7L364.9 1149.8L366.3 1150.4L367.7 1151.1L369.2 1150.8L370.6 1149.9L372.0 1149.5L373.4 1148.8L374.9 1149.4L376.3 1150.0L377.7 1149.8L379.2 1150.0L380.6 1150.6L382.0 1150.3L383.5 1150.4L384.9 1151.2L386.3 1152.0L387.8 1151.4L389.2 1151.4L390.6 1151.1L392.1 1150.2L393.5 1149.5L394.9 1150.2L396.3 1150.8L397.8 1150.8L399.2 1151.0L400.6 1151.6L402.1 1151.7L403.5 1150.8L404.9 1150.1L406.4 1150.9L407.8 1152.0L409.2 1152.0L410.7 1151.2L412.1 1151.0L413.5 1151.6L414.9 1151.9L416.4 1152.1L417.8 1152.3L419.2 1152.4L420.7 1151.9L422.1 1152.1L423.5 1152.5L425.0 1152.0L426.4 1151.4L427.8 1151.7L429.3 1152.3L430.7 1152.4L432.1 1152.1L433.5 1151.6L435.0 1151.5L436.4 1151.4L437.8 1151.2L439.3 1151.8L440.7 1152.4L442.1 1152.3L443.6 1151.8L445.0 1152.0L446.4 1152.4L447.9 1152.9L449.3 1153.0L450.7 1153.5L452.2 1153.0L453.6 1152.1L455.0 1152.0L456.4 1152.9L457.9 1152.7L459.3 1151.6L460.7 1151.5L462.2 1152.7L463.6 1153.8L465.0 1153.4L466.5 1152.6L467.9 1153.0L469.3 1153.7L470.8 1153.1L472.2 1152.4L473.6 1152.1L475.0 1152.7L476.5 1153.5L477.9 1153.4L479.3 1152.8L480.8 1152.8L482.2 1152.6L483.6 1152.4L485.1 1152.5L486.5 1153.0L487.9 1153.4L489.4 1153.7L490.8 1154.2L492.2 1154.2L493.7 1154.1L495.1 1153.9L496.5 1153.6L497.9 1153.7L499.4 1153.8L500.8 1153.2L502.2 1153.1L503.7 1154.0L505.1 1154.3L506.5 1154.0L508.0 1154.4L509.4 1154.9L510.8 1154.2L512.3 1153.5L513.7 1153.3L515.1 1153.1L516.5 1152.9L518.0 1153.0L519.4 1153.3L520.8 1153.7L522.3 1153.8L523.7 1154.0L525.1 1154.0L526.6 1153.7L528.0 1154.0L529.4 1154.7L530.9 1154.7L532.3 1154.8L533.7 1155.1L535.1 1155.2L536.6 1154.5L538.0 1153.4L539.4 1153.5L540.9 1154.5L542.3 1154.8L543.7 1154.7L545.2 1154.5L546.6 1153.9L548.0 1154.6L549.5 1155.7L550.9 1155.5L552.3 1154.8L553.8 1154.6L555.2 1154.8L556.6 1155.2L558.0 1155.4L559.5 1155.0L560.9 1155.0L562.3 1155.2L563.8 1155.2L565.2 1154.8L566.6 1154.5L568.1 1155.0L569.5 1155.1L570.9 1154.2L572.4 1153.5L573.8 1153.7L575.2 1154.2L576.6 1154.4L578.1 1153.9L579.5 1153.4L580.9 1153.4L582.4 1153.5L583.8 1153.5L585.2 1153.9L586.7 1154.4L588.1 1154.3L589.5 1154.3L591.0 1154.7L592.4 1155.1L593.8 1154.8L595.3 1155.0L596.7 1155.0L598.1 1154.8L599.5 1154.3L601.0 1154.3L602.4 1153.9L603.8 1154.1L605.3 1154.6L606.7 1154.9L608.1 1155.2L609.6 1155.5L611.0 1155.4L612.4 1155.6L613.9 1155.7L615.3 1155.9L616.7 1156.1L618.1 1155.4L619.6 1154.0L621.0 1154.2L622.4 1155.4L623.9 1155.7L625.3 1155.4L626.7 1155.6L628.2 1156.4L629.6 1156.5L631.0 1155.8L632.5 1155.2L633.9 1155.0L635.3 1154.6L636.8 1154.5L638.2 1155.2L639.6 1155.6L641.0 1155.2L642.5 1154.2L643.9 1154.7L645.3 1156.1L646.8 1156.4L648.2 1156.0L649.6 1155.7L651.1 1156.0L652.5 1156.6L653.9 1155.7L655.4 1155.4L656.8 1156.2L658.2 1155.9L659.6 1155.4L661.1 1156.0L662.5 1156.2L663.9 1155.5L665.4 1155.7L666.8 1157.2L668.2 1156.8L669.7 1155.5L671.1 1155.2L672.5 1155.7L674.0 1155.3L675.4 1155.1L676.8 1155.8L678.2 1156.1L679.7 1156.2L681.1 1156.9L682.5 1157.5L684.0 1157.8L685.4 1157.6L686.8 1156.9L688.3 1156.8L689.7 1157.5L691.1 1158.0L692.6 1157.5L694.0 1156.7L695.4 1156.1L696.9 1156.0L698.3 1156.1L699.7 1156.3L701.1 1156.5L702.6 1157.1L704.0 1157.8L705.4 1157.9L706.9 1157.1L708.3 1156.6L709.7 1157.0L711.2 1157.7L712.6 1157.9L714.0 1157.9L715.5 1157.6L716.9 1157.6L718.3 1157.8L719.7 1157.9L721.2 1157.3L722.6 1157.4L724.0 1157.6L725.5 1157.7L726.9 1157.5L728.3 1157.5L729.8 1157.3L731.2 1157.2L732.6 1157.3L734.1 1158.2L735.5 1159.2L736.9 1159.1L738.4 1158.3L739.8 1158.3L741.2 1158.3L742.6 1158.4L744.1 1158.7L745.5 1158.8L746.9 1158.1L748.4 1157.3L749.8 1156.8L751.2 1157.0L752.7 1157.8L754.1 1158.3L755.5 1158.6L757.0 1158.5L758.4 1158.0L759.8 1157.7L761.2 1158.0L762.7 1157.7L764.1 1157.4L765.5 1158.3L767.0 1159.0L768.4 1158.3L769.8 1157.4L771.3 1157.3L772.7 1157.5L774.1 1157.5L775.6 1157.8L777.0 1158.2L778.4 1158.9L779.9 1158.9L781.3 1157.6L782.7 1157.5L784.1 1158.7L785.6 1159.0L787.0 1158.4L788.4 1158.1L789.9 1158.0L791.3 1158.4L792.7 1158.7L794.2 1158.6L795.6 1158.6L797.0 1158.8L798.5 1158.6L799.9 1158.5L801.3 1159.1L802.7 1159.8L804.2 1159.4L805.6 1158.8L807.0 1158.2L808.5 1157.6L809.9 1157.6L811.3 1158.8L812.8 1159.8L814.2 1159.3L815.6 1158.9L817.1 1158.8L818.5 1158.8L819.9 1158.7L821.4 1159.4L822.8 1159.4L824.2 1158.2L825.6 1157.3L827.1 1157.9L828.5 1159.0L829.9 1159.6L831.4 1159.5L832.8 1158.8L834.2 1158.5L835.7 1158.8L837.1 1158.8L838.5 1158.1L840.0 1157.7L841.4 1158.7L842.8 1159.4L844.2 1159.3L845.7 1158.9L847.1 1160.0L848.5 1160.7L850.0 1159.9L851.4 1158.6L852.8 1159.0L854.3 1159.1L855.7 1158.1L857.1 1157.9L858.6 1158.9L860.0 1159.3L861.4 1159.1L862.8 1159.2L864.3 1159.4L865.7 1159.1L867.1 1158.1L868.6 1157.1L870.0 1157.6L871.4 1159.2L872.9 1160.1L874.3 1159.6L875.7 1158.3L877.2 1158.1L878.6 1158.6L880.0 1158.5L881.5 1158.1L882.9 1158.4L884.3 1158.7L885.7 1159.2L887.2 1159.6L888.6 1159.7L890.0 1159.8L891.5 1159.8L892.9 1159.4L894.3 1159.2L895.8 1159.7L897.2 1160.0L898.6 1160.0L900.1 1160.4L901.5 1161.3L902.9 1160.3L904.3 1159.0L905.8 1159.3L907.2 1160.1L908.6 1159.5L910.1 1158.6L911.5 1158.4L912.9 1158.8L914.4 1158.7L915.8 1158.4L917.2 1158.4L918.7 1158.8L920.1 1158.5L921.5 1158.6L923.0 1159.0L924.4 1159.1L925.8 1158.7L927.2 1159.0L928.7 1159.6L930.1 1159.6L931.5 1159.0L933.0 1158.5L934.4 1158.2L935.8 1157.1L937.3 1156.7L938.7 1157.6L940.1 1158.7L941.6 1158.9L943.0 1158.7L944.4 1158.8L945.8 1158.7L947.3 1158.5L948.7 1159.0L950.1 1159.3L951.6 1158.6L953.0 1157.9L954.4 1158.5L955.9 1159.0L957.3 1158.8L958.7 1158.7L960.2 1159.1L961.6 1159.4L963.0 1158.8L964.5 1158.7L965.9 1159.0L967.3 1158.4L968.7 1157.8L970.2 1158.3L971.6 1158.9L973.0 1159.4L974.5 1159.5L975.9 1158.5L977.3 1157.5L978.8 1157.6L980.2 1158.3L981.6 1158.9L983.1 1158.8L984.5 1157.9L985.9 1157.3L987.3 1158.0L988.8 1158.7L990.2 1158.1L991.6 1157.4L993.1 1157.5L994.5 1157.3L995.9 1157.9L997.4 1158.5L998.8 1158.4L1000.2 1157.3L1001.7 1157.4L1003.1 1158.4L1004.5 1158.6L1005.9 1158.0L1007.4 1157.9L1008.8 1158.3L1010.2 1158.6L1011.7 1158.9L1013.1 1158.3L1014.5 1158.5L1016.0 1158.7L1017.4 1158.2L1018.8 1156.8L1020.3 1157.1L1021.7 1158.1L1023.1 1159.4L1024.6 1160.0L1026.0 1159.2L1027.4 1157.9L1028.8 1157.3L1030.3 1157.3L1031.7 1157.4L1033.1 1157.5L1034.6 1158.0L1036.0 1158.5L1037.4 1158.8L1038.9 1158.5L1040.3 1157.9L1041.7 1157.7L1043.2 1158.0L1044.6 1158.9L1046.0 1159.7L1047.4 1159.3L1048.9 1157.8L1050.3 1157.3L1051.7 1157.6L1053.2 1158.3L1054.6 1158.6L1056.0 1158.5L1057.5 1158.1L1058.9 1158.1L1060.3 1158.3L1061.8 1158.7L1063.2 1159.2L1064.6 1159.2L1066.1 1158.8L1067.5 1143.7L1068.9 1114.5L1070.3 1086.6L1071.8 1059.6L1073.2 1033.5L1074.6 1008.6L1076.1 985.4L1077.5 963.9L1078.9 944.0L1080.4 926.5L1081.8 912.7L1083.2 915.6L1084.7 928.7L1086.1 944.7L1087.5 962.3L1088.9 981.5L1090.4 1001.9L1091.8 1023.4L1093.2 1046.0L1094.7 1069.6L1096.1 1093.8L1097.5 1118.9L1099.0 1144.9L1100.4 1158.5L1101.8 1158.0L1103.3 1158.2L1104.7 1158.3L1106.1 1158.5L1107.6 1158.9L1109.0 1158.7L1110.4 1157.7L1111.8 1158.1L1113.3 1159.0L1114.7 1159.1L1116.1 1158.5L1117.6 1159.0L1119.0 1159.4L1120.4 1159.5L1121.9 1159.4L1123.3 1159.6L1124.7 1159.2L1126.2 1159.2L1127.6 1158.8L1129.0 1157.8L1130.4 1156.1L1131.9 1156.4L1133.3 1157.2L1134.7 1157.6L1136.2 1158.9L1137.6 1159.4L1139.0 1158.1L1140.5 1157.8L1141.9 1158.1L1143.3 1157.1L1144.8 1156.6L1146.2 1157.9L1147.6 1158.8L1149.0 1158.5L1150.5 1158.1L1151.9 1158.2L1153.3 1158.4L1154.8 1159.2L1156.2 1159.4L1157.6 1158.1L1159.1 1157.4L1160.5 1158.2L1161.9 1158.4L1163.4 1157.7L1164.8 1157.6L1166.2 1157.9L1167.7 1158.3L1169.1 1158.4L1170.5 1157.8L1171.9 1157.6L1173.4 1158.2L1174.8 1157.9L1176.2 1157.3L1177.7 1157.8L1179.1 1158.8L1180.5 1158.5L1182.0 1158.3L1183.4 1158.3L1184.8 1158.0L1186.3 1157.8L1187.7 1158.2L1189.1 1158.2L1190.5 1157.9L1192.0 1158.2L1193.4 1158.7L1194.8 1159.1L1196.3 1159.1L1197.7 1158.6L1199.1 1158.0L1200.6 1157.8L1202.0 1157.8L1203.4 1158.3L1204.9 1158.8L1206.3 1159.1L1207.7 1158.8L1209.2 1158.6L1210.6 1158.9L1212.0 1159.8L1213.4 1159.6L1214.9 1157.7L1216.3 1156.9L1217.7 1157.4L1219.2 1157.9L1220.6 1158.1L1222.0 1159.3L1223.5 1159.4L1224.9 1158.8L1226.3 1158.1L1227.8 1158.3L1229.2 1158.1L1230.6 1158.1L1232.0 1143.8L1233.5 1127.4L1234.9 1112.0L1236.3 1098.0L1237.8 1085.6L1239.2 1075.3L1240.6 1067.4L1242.1 1065.4L1243.5 1071.7L1244.9 1080.9L1246.4 1092.1L1247.8 1104.7L1249.2 1118.6L1250.7 1133.8L1252.1 1150.3L1253.5 1159.4L1254.9 1159.2L1256.4 1158.8L1257.8 1158.7L1259.2 1155.2L1260.7 1151.3L1262.1 1147.9L1263.5 1144.9L1265.0 1143.5L1266.4 1146.5L1267.8 1149.8L1269.3 1152.3L1270.7 1155.5L1272.1 1159.1L1273.5 1159.4L1275.0 1159.5L1276.4 1159.4L1277.8 1158.9L1279.3 1159.6L1280.7 1159.6L1282.1 1158.8L1283.6 1158.2L1285.0 1158.1L1286.4 1158.1L1287.9 1158.6L1289.3 1159.0L1290.7 1158.6L1292.1 1158.4L1293.6 1158.6L1295.0 1158.4L1296.4 1159.0L1297.9 1159.5L1299.3 1159.1L1300.7 1159.1L1302.2 1159.8L1303.6 1160.2L1305.0 1159.5L1306.5 1158.8L1307.9 1159.0L1309.3 1159.8L1310.8 1159.9L1312.2 1160.2L1313.6 1160.4L1315.0 1160.4L1316.5 1160.4L1317.9 1159.8L1319.3 1159.2L1320.8 1159.7L1322.2 1160.0L1323.6 1159.6L1325.1 1159.7L1326.5 1160.6L1327.9 1160.2L1329.4 1160.1L1330.8 1159.9L1332.2 1159.7L1333.6 1160.1L1335.1 1160.6L1336.5 1160.4L1337.9 1160.3L1339.4 1161.0L1340.8 1161.0L1342.2 1161.0L1343.7 1159.9L1345.1 1159.1L1346.5 1158.7L1348.0 1158.4L1349.4 1158.6L1350.8 1158.9L1352.3 1159.0L1353.7 1159.2L1355.1 1159.5L1356.5 1159.0L1358.0 1158.5L1359.4 1158.8L1360.8 1159.3L1362.3 1159.2L1363.7 1159.0L1365.1 1159.5L1366.6 1160.6L1368.0 1161.5L1369.4 1161.7L1370.9 1161.1L1372.3 1160.6L1373.7 1160.4L1375.1 1159.8L1376.6 1159.2L1378.0 1159.1L1379.4 1159.5L1380.9 1159.9L1382.3 1160.6L1383.7 1161.3L1385.2 1161.3L1386.6 1160.9L1388.0 1160.4L1389.5 1159.5L1390.9 1158.8L1392.3 1158.6L1393.8 1159.0L1395.2 1159.8L1396.6 1160.3L1398.0 1160.1L1399.5 1159.4L1400.9 1159.0L1402.3 1159.3L1403.8 1159.0L1405.2 1158.4L1406.6 1158.4L1408.1 1158.4L1409.5 1158.4L1410.9 1158.6L1412.4 1158.4L1413.8 1158.4L1415.2 1158.5L1416.6 1158.7L1418.1 1159.2L1419.5 1159.8L1420.9 1159.2L1422.4 1158.7L1423.8 1158.4L1425.2 1158.8L1426.7 1159.2L1428.1 1159.2L1429.5 1159.0L1431.0 1159.1L1432.4 1159.4L1433.8 1159.4L1435.2 1159.4L1436.7 1158.8L1438.1 1158.1L1439.5 1158.5L1441.0 1158.7L1442.4 1159.2L1443.8 1159.5L1445.3 1158.6L1446.7 1157.8L1448.1 1158.1L1449.6 1158.7L1451.0 1159.8L1452.4 1160.4L1453.9 1159.9L1455.3 1159.0L1456.7 1158.3L1458.1 1157.8L1459.6 1158.2L1461.0 1158.4L1462.4 1158.7L1463.9 1158.7L1465.3 1158.3L1466.7 1157.9L1468.2 1158.5L1469.6 1158.9L1471.0 1158.9L1472.5 1159.7L1473.9 1159.9L1475.3 1159.4L1476.7 1159.4L1478.2 1158.7L1479.6 1158.0L1481.0 1158.6L1482.5 1159.2L1483.9 1159.3L1485.3 1158.9L1486.8 1159.0L1488.2 1159.3L1489.6 1159.2L1491.1 1158.6L1492.5 1158.3L1493.9 1158.7L1495.4 1159.2L1496.8 1160.0L1498.2 1160.4L1499.6 1160.1L1501.1 1159.4L1502.5 1159.0L1503.9 1158.0L1505.4 1157.8L1506.8 1158.1L1508.2 1157.8L1509.7 1156.5L1511.1 1155.3L1512.5 1153.5L1514.0 1152.7L1515.4 1153.7L1516.8 1155.4L1518.2 1156.7L1519.7 1157.3L1521.1 1156.9L1522.5 1157.2L1524.0 1158.4L1525.4 1158.9L1526.8 1158.1L1528.3 1157.5L1529.7 1158.2L1531.1 1159.2L1532.6 1159.1L1534.0 1158.6L1535.4 1159.0L1536.9 1159.7L1538.3 1159.0L1539.7 1158.3L1541.1 1158.3L1542.6 1158.2L1544.0 1158.7L1545.4 1159.2L1546.9 1159.1L1548.3 1159.0L1549.7 1159.7L1551.2 1159.7L1552.6 1158.7L1554.0 1158.0L1555.5 1157.8L1556.9 1157.9L1558.3 1157.9L1559.7 1157.5L1561.2 1156.9L1562.6 1156.7L1564.0 1157.1L1565.5 1158.0L1566.9 1158.8L1568.3 1158.9L1569.8 1158.3L1571.2 1157.8L1572.6 1157.6L1574.1 1157.8L1575.5 1157.7L1576.9 1157.5L1578.3 1158.0L1579.8 1159.1L1581.2 1158.6L1582.6 1157.6L1584.1 1157.3L1585.5 1157.2L1586.9 1157.2L1588.4 1157.2L1589.8 1157.5L1591.2 1158.2L1592.7 1158.4L1594.1 1157.7L1595.5 1157.1L1597.0 1157.2L1598.4 1157.5L1599.8 1157.7L1601.2 1157.3L1602.7 1157.0L1604.1 1157.6L1605.5 1158.5L1607.0 1159.0L1608.4 1158.7L1609.8 1158.0L1611.3 1157.8L1612.7 1159.0L1614.1 1159.3L1615.6 1158.2L1617.0 1157.8L1618.4 1158.5L1619.8 1158.7L1621.3 1158.9L1622.7 1159.1L1624.1 1158.2L1625.6 1157.4L1627.0 1157.6L1628.4 1158.1L1629.9 1158.6L1631.3 1158.9L1632.7 1158.5L1634.2 1158.0L1635.6 1158.1L1637.0 1158.6L1638.5 1159.0L1639.9 1158.9L1641.3 1158.2L1642.7 1157.7L1644.2 1157.7L1645.6 1157.9L1647.0 1158.4L1648.5 1157.9L1649.9 1157.2L1651.3 1156.9L1652.8 1157.2L1654.2 1157.8L1655.6 1157.9L1657.1 1157.0L1658.5 1156.4L1659.9 1157.3L1661.3 1158.5L1662.8 1158.3L1664.2 1157.8L1665.6 1158.1L1667.1 1158.4L1668.5 1158.4L1669.9 1158.6L1671.4 1158.4L1672.8 1158.7L1674.2 1159.3L1675.7 1158.8L1677.1 1157.2L1678.5 1157.0L1680.0 1157.4L1681.4 1157.1L1682.8 1157.3L1684.2 1158.1L1685.7 1158.3L1687.1 1157.5L1688.5 1156.9L1690.0 1157.3L1691.4 1158.9L1692.8 1159.5L1694.3 1158.9L1695.7 1158.1L1697.1 1158.3L1698.6 1158.8L1700.0 1158.4L1701.4 1157.2L1702.8 1156.6L1704.3 1157.3L1705.7 1158.5L1707.1 1158.7L1708.6 1158.3L1710.0 1157.5L1711.4 1157.4L1712.9 1157.3L1714.3 1157.5L1715.7 1157.5L1717.2 1158.0L1718.6 1158.1L1720.0 1157.7L1721.4 1157.6L1722.9 1157.7L1724.3 1157.8L1725.7 1157.5L1727.2 1157.7L1728.6 1157.8L1730.0 1158.0L1731.5 1157.8L1732.9 1158.0L1734.3 1158.6L1735.8 1158.6L1737.2 1157.6L1738.6 1157.3L1740.1 1157.3L1741.5 1157.5L1742.9 1156.8L1744.3 1157.6L1745.8 1157.9L1747.2 1157.7L1748.6 1156.9L1750.1 1157.0L1751.5 1156.4L1752.9 1157.3L1754.4 1159.1L1755.8 1159.8L1757.2 1159.1L1758.7 1158.4L1760.1 1157.8L1761.5 1158.0L1762.9 1159.0L1764.4 1158.7L1765.8 1157.6L1767.2 1157.7L1768.7 1158.0L1770.1 1157.9L1771.5 1157.7L1773.0 1157.6L1774.4 1157.7L1775.8 1157.7L1777.3 1157.5L1778.7 1158.0L1780.1 1158.5L1781.6 1158.3L1783.0 1157.9L1784.4 1158.0L1785.8 1157.6L1787.3 1157.5L1788.7 1157.6L1790.1 1157.2L1791.6 1157.2L1793.0 1157.6L1794.4 1157.6L1795.9 1157.3L1797.3 1157.2L1798.7 1155.5L1800.2 1147.4L1801.6 1139.2L1803.0 1131.7L1804.4 1125.1L1805.9 1119.2L1807.3 1114.3L1808.7 1110.8L1810.2 1110.8L1811.6 1114.0L1813.0 1118.5L1814.5 1124.4L1815.9 1130.7L1817.3 1137.5L1818.8 1145.1L1820.2 1153.3L1821.6 1156.5L1823.1 1155.3L1824.5 1153.3L1825.9 1150.6L1827.3 1148.3L1828.8 1146.9L1830.2 1148.5L1831.6 1151.1L1833.1 1152.6L1834.5 1153.9L1835.9 1157.3L1837.4 1158.7L1838.8 1158.1L1840.2 1157.6L1841.7 1157.9L1843.1 1158.3L1844.5 1158.1L1845.9 1157.6L1847.4 1157.9L1848.8 1158.1L1850.2 1157.7L1851.7 1157.8L1853.1 1158.3L1854.5 1157.7L1856.0 1158.0L1857.4 1158.7L1858.8 1158.6L1860.3 1156.9L1861.7 1156.7L1863.1 1158.1L1864.5 1158.9L1866.0 1158.3L1867.4 1157.8L1868.8 1158.2L1870.3 1159.1L1871.7 1159.9L1873.1 1160.3L1874.6 1159.4L1876.0 1158.0L1877.4 1157.1L1878.9 1157.2L1880.3 1157.5L1881.7 1158.1L1883.2 1158.0L1884.6 1158.2L1886.0 1158.2L1887.4 1157.7L1888.9 1158.0L1890.3 1158.4L1891.7 1158.7L1893.2 1158.6L1894.6 1158.2L1896.0 1157.7L1897.5 1157.7L1898.9 1157.7L1900.3 1157.4L1901.8 1157.5L1903.2 1158.1L1904.6 1158.0L1906.0 1157.8L1907.5 1157.7L1908.9 1158.1L1910.3 1158.3L1911.8 1158.0L1913.2 1157.3L1914.6 1156.8L1916.1 1156.4L1917.5 1156.8L1918.9 1157.7L1920.4 1158.3L1921.8 1158.2L1923.2 1157.9L1924.7 1157.9L1926.1 1157.9L1927.5 1157.3L1928.9 1157.4L1930.4 1158.5L1931.8 1159.2L1933.2 1158.9L1934.7 1158.3L1936.1 1157.6L1937.5 1157.3L1939.0 1157.8L1940.4 1158.3L1941.8 1157.9L1943.3 1157.5L1944.7 1158.6L1946.1 1159.4L1947.5 1158.7L1949.0 1158.6L1950.4 1158.6L1951.8 1158.1L1953.3 1158.1L1954.7 1158.8L1956.1 1158.4L1957.6 1157.7L1959.0 1157.6L1960.4 1158.1L1961.9 1158.6L1963.3 1157.9L1964.7 1157.0L1966.2 1156.9L1967.6 1157.4L1969.0 1157.5L1970.4 1157.7L1971.9 1157.3L1973.3 1156.9L1974.7 1157.3L1976.2 1158.2L1977.6 1158.8L1979.0 1158.7L1980.5 1157.7L1981.9 1157.5L1983.3 1158.1L1984.8 1158.1L1986.2 1157.8L1987.6 1157.3L1989.0 1156.5L1990.5 1156.3L1991.9 1156.4L1993.3 1157.2L1994.8 1157.3L1996.2 1156.8L1997.6 1156.7L1999.1 1157.0L2000.5 1157.0L2001.9 1157.0L2003.4 1156.5L2004.8 1155.9L2006.2 1156.7L2007.6 1157.5L2009.1 1157.6L2010.5 1157.4L2011.9 1157.7L2013.4 1157.4L2014.8 1157.3L2016.2 1158.0L2017.7 1157.8L2019.1 1157.4L2020.5 1157.7L2022.0 1158.3L2023.4 1158.4L2024.8 1158.0L2026.3 1157.3L2027.7 1157.2L2029.1 1157.5L2030.5 1157.8L2032.0 1157.5L2033.4 1157.4L2034.8 1157.9L2036.3 1158.4L2037.7 1157.8L2039.1 1157.3L2040.6 1157.4L2042.0 1157.3L2043.4 1156.4L2044.9 1156.3L2046.3 1156.5L2047.7 1156.3L2049.1 1156.6L2050.6 1156.6L2052.0 1156.6L2053.4 1156.9L2054.9 1157.7L2056.3 1157.8L2057.7 1157.3L2059.2 1156.8L2060.6 1157.1L2062.0 1156.7L2063.5 1156.1L2064.9 1156.5L2066.3 1157.5L2067.8 1157.8L2069.2 1157.2L2070.6 1156.5L2072.0 1156.8L2073.5 1157.3L2074.9 1157.3L2076.3 1157.7L2077.8 1158.6L2079.2 1158.6L2080.6 1157.3L2082.1 1156.5L2083.5 1157.3L2084.9 1157.6L2086.4 1156.9L2087.8 1156.2L2089.2 1156.6L2090.6 1157.4L2092.1 1157.4L2093.5 1157.6L2094.9 1158.3L2096.4 1158.0L2097.8 1156.6L2099.2 1156.5L2100.7 1157.1L2102.1 1157.1L2103.5 1156.7L2105.0 1156.6L2106.4 1156.6L2107.8 1156.7L2109.2 1156.5L2110.7 1156.3L2112.1 1156.6L2113.5 1157.4L2115.0 1157.9L2116.4 1158.2L2117.8 1158.4L2119.3 1157.9L2120.7 1157.0L2122.1 1156.9L2123.6 1156.4L2125.0 1156.0L2126.4 1156.2L2127.9 1156.2L2129.3 1156.0L2130.7 1156.3L2132.1 1157.3L2133.6 1157.5L2135.0 1156.9L2136.4 1156.0L2137.9 1155.5L2139.3 1155.6L2140.7 1156.2L2142.2 1156.2L2143.6 1155.6L2145.0 1156.2L2146.5 1157.4L2147.9 1157.9L2149.3 1157.2L2150.7 1156.2L2152.2 1155.2L2153.6 1154.9L2155.0 1155.3L2156.5 1156.5L2157.9 1157.2L2159.3 1156.4L2160.8 1156.1L2162.2 1157.1L2163.6 1157.3L2165.1 1155.4L2166.5 1148.0L2167.9 1141.1L2169.4 1134.5L2170.8 1128.5L2172.2 1123.3L2173.6 1118.9L2175.1 1116.5L2176.5 1119.2L2177.9 1122.9L2179.4 1127.5L2180.8 1132.3L2182.2 1137.7L2183.7 1143.3L2185.1 1148.9L2186.5 1154.2L2188.0 1155.6L2189.4 1156.7L2190.8 1157.4L2192.2 1157.4L2193.7 1156.8L2195.1 1156.3L2196.5 1156.6L2198.0 1157.0L2199.4 1156.3L2200.8 1155.3L2202.3 1155.8L2203.7 1156.6L2205.1 1157.0"/>
<path id="fng2" class="tr" stroke="#7030a0" stroke-width="5.5" d="M177.4 906.0L178.8 903.9L180.3 902.9L181.7 904.7L183.1 906.3L184.6 906.4L186.0 905.8L187.4 904.9L188.8 903.9L190.3 903.9L191.7 904.5L193.1 905.8L194.6 906.8L196.0 906.1L197.4 905.3L198.9 905.7L200.3 906.9L201.7 908.0L203.2 908.7L204.6 906.4L206.0 905.1L207.5 904.8L208.9 906.2L210.3 906.8L211.7 906.7L213.2 907.1L214.6 907.5L216.0 906.0L217.5 905.1L218.9 905.4L220.3 905.3L221.8 906.4L223.2 907.3L224.6 907.6L226.1 907.9L227.5 907.0L228.9 906.5L230.3 907.6L231.8 906.8L233.2 904.7L234.6 905.9L236.1 908.2L237.5 908.4L238.9 907.4L240.4 907.4L241.8 908.7L243.2 908.9L244.7 908.8L246.1 907.9L247.5 906.6L249.0 906.5L250.4 908.1L251.8 908.8L253.2 908.4L254.7 908.4L256.1 908.9L257.5 909.5L259.0 910.0L260.4 909.9L261.8 909.0L263.3 907.9L264.7 905.7L266.1 905.5L267.6 907.2L269.0 909.0L270.4 907.7L271.8 906.5L273.3 906.6L274.7 906.6L276.1 907.0L277.6 909.4L279.0 909.9L280.4 908.7L281.9 909.6L283.3 910.5L284.7 909.6L286.2 910.6L287.6 913.2L289.0 911.9L290.4 909.0L291.9 908.0L293.3 910.4L294.7 910.6L296.2 908.8L297.6 907.5L299.0 909.1L300.5 910.2L301.9 910.5L303.3 910.8L304.8 912.1L306.2 912.3L307.6 912.1L309.1 911.9L310.5 912.5L311.9 911.1L313.3 909.3L314.8 910.0L316.2 911.7L317.6 911.6L319.1 911.0L320.5 913.1L321.9 914.7L323.4 913.4L324.8 911.8L326.2 911.6L327.7 911.8L329.1 912.8L330.5 913.1L331.9 911.2L333.4 910.6L334.8 912.0L336.2 912.6L337.7 909.8L339.1 908.3L340.5 908.8L342.0 909.8L343.4 909.9L344.8 910.1L346.3 910.8L347.7 912.1L349.1 913.2L350.6 912.6L352.0 911.4L353.4 911.8L354.8 913.4L356.3 912.6L357.7 910.6L359.1 910.0L360.6 910.6L362.0 911.8L363.4 912.6L364.9 913.1L366.3 913.4L367.7 913.4L369.2 913.5L370.6 914.1L372.0 913.6L373.4 912.2L374.9 911.8L376.3 911.4L377.7 910.5L379.2 910.2L380.6 910.9L382.0 912.1L383.5 912.4L384.9 912.2L386.3 912.2L387.8 912.3L389.2 912.0L390.6 911.8L392.1 911.5L393.5 912.2L394.9 913.5L396.3 913.6L397.8 912.5L399.2 912.4L400.6 914.5L402.1 914.1L403.5 912.7L404.9 913.2L406.4 915.0L407.8 915.3L409.2 914.4L410.7 913.9L412.1 913.8L413.5 913.4L414.9 912.9L416.4 913.7L417.8 913.8L419.2 913.3L420.7 912.3L422.1 912.0L423.5 912.1L425.0 913.3L426.4 914.6L427.8 916.0L429.3 914.8L430.7 912.2L432.1 909.5L433.5 910.1L435.0 911.5L436.4 912.8L437.8 912.7L439.3 911.8L440.7 912.0L442.1 913.5L443.6 914.7L445.0 915.5L446.4 916.1L447.9 914.7L449.3 912.8L450.7 914.3L452.2 916.6L453.6 916.3L455.0 915.2L456.4 915.3L457.9 914.9L459.3 914.2L460.7 913.8L462.2 912.8L463.6 913.6L465.0 915.6L466.5 915.4L467.9 914.1L469.3 915.5L470.8 915.6L472.2 913.9L473.6 914.8L475.0 917.1L476.5 917.2L477.9 916.7L479.3 916.6L480.8 915.9L482.2 916.3L483.6 917.0L485.1 916.4L486.5 915.9L487.9 916.3L489.4 915.2L490.8 915.5L492.2 916.8L493.7 917.9L495.1 917.8L496.5 916.8L497.9 916.2L499.4 916.9L500.8 916.0L502.2 914.7L503.7 913.7L505.1 913.5L506.5 914.2L508.0 914.9L509.4 914.3L510.8 915.0L512.3 916.3L513.7 917.5L515.1 918.4L516.5 918.7L518.0 917.4L519.4 916.5L520.8 915.8L522.3 914.8L523.7 915.1L525.1 915.6L526.6 913.9L528.0 912.9L529.4 914.6L530.9 917.1L532.3 917.7L533.7 916.1L535.1 915.1L536.6 915.9L538.0 916.7L539.4 916.4L540.9 916.4L542.3 916.1L543.7 916.9L545.2 917.9L546.6 918.4L548.0 917.8L549.5 916.2L550.9 915.5L552.3 916.3L553.8 918.0L555.2 919.3L556.6 919.4L558.0 918.1L559.5 916.7L560.9 916.4L562.3 917.1L563.8 917.6L565.2 916.5L566.6 916.8L568.1 917.6L569.5 918.6L570.9 919.6L572.4 921.1L573.8 919.7L575.2 918.2L576.6 916.8L578.1 916.3L579.5 915.5L580.9 915.4L582.4 915.7L583.8 917.3L585.2 919.1L586.7 919.1L588.1 917.6L589.5 916.3L591.0 915.7L592.4 914.8L593.8 914.8L595.3 916.8L596.7 918.1L598.1 917.9L599.5 917.3L601.0 916.4L602.4 915.8L603.8 917.3L605.3 918.3L606.7 918.6L608.1 918.4L609.6 917.4L611.0 915.5L612.4 915.2L613.9 916.1L615.3 917.7L616.7 919.0L618.1 918.4L619.6 917.4L621.0 918.6L622.4 917.5L623.9 914.8L625.3 915.5L626.7 916.9L628.2 916.4L629.6 917.0L631.0 918.7L632.5 919.4L633.9 919.4L635.3 918.8L636.8 919.4L638.2 920.8L639.6 922.0L641.0 920.9L642.5 920.0L643.9 919.1L645.3 919.2L646.8 918.8L648.2 918.9L649.6 919.7L651.1 919.8L652.5 919.7L653.9 919.5L655.4 920.4L656.8 921.0L658.2 920.7L659.6 920.1L661.1 918.4L662.5 916.4L663.9 916.2L665.4 916.5L666.8 916.4L668.2 916.2L669.7 916.9L671.1 917.9L672.5 919.6L674.0 920.3L675.4 919.5L676.8 918.0L678.2 918.3L679.7 918.8L681.1 918.5L682.5 917.9L684.0 917.5L685.4 918.2L686.8 919.1L688.3 920.1L689.7 919.4L691.1 917.9L692.6 917.3L694.0 919.8L695.4 921.8L696.9 922.3L698.3 921.9L699.7 922.1L701.1 922.4L702.6 921.3L704.0 919.9L705.4 919.3L706.9 918.8L708.3 919.1L709.7 919.7L711.2 919.4L712.6 918.9L714.0 918.2L715.5 916.9L716.9 917.8L718.3 919.7L719.7 920.9L721.2 920.6L722.6 920.1L724.0 919.7L725.5 919.9L726.9 920.4L728.3 921.6L729.8 921.8L731.2 920.1L732.6 918.7L734.1 918.8L735.5 920.4L736.9 921.1L738.4 920.4L739.8 919.9L741.2 920.1L742.6 920.0L744.1 918.8L745.5 919.2L746.9 920.3L748.4 920.1L749.8 919.1L751.2 918.4L752.7 917.2L754.1 915.9L755.5 916.8L757.0 918.0L758.4 918.5L759.8 918.0L761.2 917.1L762.7 916.3L764.1 917.1L765.5 917.9L767.0 919.3L768.4 921.0L769.8 920.6L771.3 919.7L772.7 920.0L774.1 920.6L775.6 919.5L777.0 919.4L778.4 919.0L779.9 918.8L781.3 918.4L782.7 918.8L784.1 917.7L785.6 917.3L787.0 918.4L788.4 918.4L789.9 918.7L791.3 919.5L792.7 919.4L794.2 918.6L795.6 919.5L797.0 920.7L798.5 919.9L799.9 918.5L801.3 919.3L802.7 921.2L804.2 920.9L805.6 919.5L807.0 919.0L808.5 919.4L809.9 919.8L811.3 919.2L812.8 918.6L814.2 918.7L815.6 918.5L817.1 918.8L818.5 919.9L819.9 919.4L821.4 918.1L822.8 918.4L824.2 919.1L825.6 918.6L827.1 918.0L828.5 917.7L829.9 916.7L831.4 917.6L832.8 920.7L834.2 923.3L835.7 924.1L837.1 924.0L838.5 922.0L840.0 919.1L841.4 919.1L842.8 920.2L844.2 919.5L845.7 918.8L847.1 919.6L848.5 919.3L850.0 918.5L851.4 919.2L852.8 919.1L854.3 918.6L855.7 920.0L857.1 920.9L858.6 920.7L860.0 921.6L861.4 921.8L862.8 921.6L864.3 920.0L865.7 918.1L867.1 918.9L868.6 921.8L870.0 922.0L871.4 920.5L872.9 919.2L874.3 918.6L875.7 918.3L877.2 917.0L878.6 916.0L880.0 916.8L881.5 917.9L882.9 918.1L884.3 918.4L885.7 918.7L887.2 919.3L888.6 919.3L890.0 918.7L891.5 918.6L892.9 918.9L894.3 919.0L895.8 920.2L897.2 921.1L898.6 920.5L900.1 918.0L901.5 916.3L902.9 915.0L904.3 916.2L905.8 919.4L907.2 921.1L908.6 919.5L910.1 919.1L911.5 920.2L912.9 919.4L914.4 918.0L915.8 918.2L917.2 918.5L918.7 919.3L920.1 921.2L921.5 921.2L923.0 919.8L924.4 919.3L925.8 919.1L927.2 918.9L928.7 919.9L930.1 920.7L931.5 920.3L933.0 919.0L934.4 919.2L935.8 919.3L937.3 918.3L938.7 917.8L940.1 920.0L941.6 921.3L943.0 920.6L944.4 919.9L945.8 920.8L947.3 921.6L948.7 920.8L950.1 920.4L951.6 921.3L953.0 920.8L954.4 919.0L955.9 919.3L957.3 920.7L958.7 921.1L960.2 920.0L961.6 920.1L963.0 922.1L964.5 922.5L965.9 920.9L967.3 920.4L968.7 920.7L970.2 919.7L971.6 920.0L973.0 920.4L974.5 919.0L975.9 918.4L977.3 920.9L978.8 922.8L980.2 921.8L981.6 920.3L983.1 919.4L984.5 919.1L985.9 917.9L987.3 917.3L988.8 919.3L990.2 921.0L991.6 921.8L993.1 922.2L994.5 921.1L995.9 919.6L997.4 920.1L998.8 920.9L1000.2 920.8L1001.7 920.9L1003.1 920.1L1004.5 919.6L1005.9 918.7L1007.4 918.9L1008.8 921.1L1010.2 922.3L1011.7 921.9L1013.1 921.5L1014.5 922.7L1016.0 922.6L1017.4 921.7L1018.8 920.6L1020.3 921.8L1021.7 922.3L1023.1 921.2L1024.6 920.0L1026.0 920.9L1027.4 920.7L1028.8 920.4L1030.3 920.9L1031.7 922.8L1033.1 922.9L1034.6 921.8L1036.0 921.4L1037.4 921.7L1038.9 922.0L1040.3 922.6L1041.7 923.0L1043.2 921.5L1044.6 920.0L1046.0 919.9L1047.4 920.7L1048.9 921.1L1050.3 921.8L1051.7 921.7L1053.2 922.3L1054.6 923.4L1056.0 923.8L1057.5 921.6L1058.9 920.2L1060.3 922.1L1061.8 923.5L1063.2 922.3L1064.6 922.8L1066.1 925.5L1067.5 925.6L1068.9 918.6L1070.3 888.5L1071.8 861.4L1073.2 835.8L1074.6 810.9L1076.1 786.9L1077.5 764.9L1078.9 744.9L1080.4 726.7L1081.8 711.4L1083.2 699.9L1084.7 702.5L1086.1 713.9L1087.5 728.3L1088.9 744.5L1090.4 762.7L1091.8 782.1L1093.2 802.5L1094.7 824.4L1096.1 847.7L1097.5 871.6L1099.0 895.8L1100.4 919.2L1101.8 919.9L1103.3 923.0L1104.7 924.1L1106.1 922.8L1107.6 921.5L1109.0 921.3L1110.4 922.3L1111.8 923.1L1113.3 922.3L1114.7 921.1L1116.1 920.8L1117.6 920.7L1119.0 920.0L1120.4 918.2L1121.9 916.9L1123.3 918.2L1124.7 919.8L1126.2 920.5L1127.6 920.8L1129.0 920.8L1130.4 920.5L1131.9 921.5L1133.3 921.8L1134.7 921.2L1136.2 921.3L1137.6 922.8L1139.0 922.1L1140.5 921.2L1141.9 920.9L1143.3 920.0L1144.8 918.6L1146.2 919.8L1147.6 920.4L1149.0 920.5L1150.5 920.8L1151.9 921.4L1153.3 921.1L1154.8 922.4L1156.2 924.2L1157.6 923.2L1159.1 920.9L1160.5 920.0L1161.9 920.3L1163.4 919.9L1164.8 920.6L1166.2 920.4L1167.7 919.3L1169.1 918.7L1170.5 919.9L1171.9 921.8L1173.4 922.4L1174.8 921.4L1176.2 919.4L1177.7 919.1L1179.1 920.3L1180.5 921.3L1182.0 922.1L1183.4 920.8L1184.8 918.4L1186.3 918.6L1187.7 919.9L1189.1 920.8L1190.5 921.6L1192.0 922.0L1193.4 921.1L1194.8 921.1L1196.3 921.2L1197.7 921.7L1199.1 920.6L1200.6 918.2L1202.0 917.4L1203.4 919.6L1204.9 920.8L1206.3 920.2L1207.7 920.2L1209.2 921.3L1210.6 920.5L1212.0 919.3L1213.4 919.1L1214.9 919.8L1216.3 919.7L1217.7 919.9L1219.2 920.1L1220.6 919.9L1222.0 919.7L1223.5 919.6L1224.9 919.0L1226.3 918.8L1227.8 919.7L1229.2 921.0L1230.6 923.0L1232.0 922.8L1233.5 911.9L1234.9 897.2L1236.3 884.1L1237.8 871.8L1239.2 860.6L1240.6 851.3L1242.1 843.8L1243.5 839.6L1244.9 843.5L1246.4 850.4L1247.8 859.2L1249.2 869.3L1250.7 880.4L1252.1 893.1L1253.5 906.6L1254.9 918.3L1256.4 916.2L1257.8 916.3L1259.2 916.7L1260.7 913.6L1262.1 909.3L1263.5 907.6L1265.0 907.8L1266.4 906.5L1267.8 907.2L1269.3 909.1L1270.7 911.2L1272.1 913.8L1273.5 917.3L1275.0 917.9L1276.4 918.6L1277.8 918.2L1279.3 917.4L1280.7 917.5L1282.1 916.6L1283.6 915.8L1285.0 917.3L1286.4 917.4L1287.9 915.7L1289.3 916.1L1290.7 917.9L1292.1 917.7L1293.6 916.2L1295.0 915.4L1296.4 914.6L1297.9 914.4L1299.3 916.7L1300.7 917.4L1302.2 915.7L1303.6 914.4L1305.0 916.1L1306.5 916.1L1307.9 916.0L1309.3 916.3L1310.8 916.8L1312.2 915.6L1313.6 915.8L1315.0 917.8L1316.5 919.0L1317.9 919.0L1319.3 919.0L1320.8 918.9L1322.2 917.8L1323.6 916.8L1325.1 917.8L1326.5 919.5L1327.9 920.2L1329.4 918.7L1330.8 917.2L1332.2 917.2L1333.6 917.8L1335.1 916.8L1336.5 914.8L1337.9 914.9L1339.4 917.1L1340.8 918.4L1342.2 919.2L1343.7 918.2L1345.1 915.3L1346.5 914.2L1348.0 916.6L1349.4 917.8L1350.8 917.0L1352.3 917.1L1353.7 917.4L1355.1 916.5L1356.5 916.1L1358.0 916.5L1359.4 917.6L1360.8 917.9L1362.3 917.0L1363.7 915.5L1365.1 915.6L1366.6 917.0L1368.0 917.5L1369.4 917.0L1370.9 917.5L1372.3 918.5L1373.7 919.9L1375.1 920.7L1376.6 920.3L1378.0 920.2L1379.4 919.5L1380.9 916.2L1382.3 914.5L1383.7 916.0L1385.2 918.3L1386.6 919.6L1388.0 919.1L1389.5 917.0L1390.9 916.2L1392.3 917.2L1393.8 917.4L1395.2 916.2L1396.6 916.8L1398.0 918.1L1399.5 918.5L1400.9 918.3L1402.3 917.9L1403.8 917.3L1405.2 917.1L1406.6 917.6L1408.1 917.8L1409.5 918.3L1410.9 918.4L1412.4 918.3L1413.8 918.5L1415.2 919.6L1416.6 917.9L1418.1 916.8L1419.5 918.2L1420.9 919.7L1422.4 918.7L1423.8 918.5L1425.2 917.8L1426.7 919.5L1428.1 921.5L1429.5 921.4L1431.0 918.8L1432.4 918.1L1433.8 916.6L1435.2 916.6L1436.7 917.2L1438.1 918.6L1439.5 919.2L1441.0 920.9L1442.4 921.5L1443.8 919.8L1445.3 918.3L1446.7 918.7L1448.1 921.0L1449.6 920.5L1451.0 917.4L1452.4 916.4L1453.9 918.2L1455.3 919.6L1456.7 921.3L1458.1 922.2L1459.6 922.4L1461.0 921.6L1462.4 919.9L1463.9 917.8L1465.3 917.4L1466.7 918.6L1468.2 920.4L1469.6 921.9L1471.0 922.1L1472.5 920.6L1473.9 919.5L1475.3 919.1L1476.7 919.2L1478.2 920.4L1479.6 920.8L1481.0 919.9L1482.5 920.4L1483.9 922.1L1485.3 922.1L1486.8 920.7L1488.2 920.0L1489.6 920.4L1491.1 920.0L1492.5 920.2L1493.9 921.8L1495.4 922.0L1496.8 920.3L1498.2 919.2L1499.6 919.4L1501.1 919.6L1502.5 920.2L1503.9 921.2L1505.4 923.0L1506.8 922.9L1508.2 920.8L1509.7 919.0L1511.1 919.5L1512.5 920.9L1514.0 921.4L1515.4 920.7L1516.8 919.9L1518.2 919.3L1519.7 918.9L1521.1 920.4L1522.5 921.8L1524.0 920.5L1525.4 918.8L1526.8 919.3L1528.3 922.0L1529.7 923.0L1531.1 923.7L1532.6 924.8L1534.0 925.7L1535.4 924.5L1536.9 922.3L1538.3 920.2L1539.7 921.1L1541.1 923.0L1542.6 924.1L1544.0 924.4L1545.4 922.7L1546.9 922.1L1548.3 922.7L1549.7 923.3L1551.2 922.9L1552.6 922.5L1554.0 920.4L1555.5 919.5L1556.9 921.5L1558.3 924.0L1559.7 923.6L1561.2 923.2L1562.6 923.3L1564.0 922.6L1565.5 923.5L1566.9 925.7L1568.3 924.9L1569.8 921.8L1571.2 921.2L1572.6 923.2L1574.1 923.1L1575.5 921.8L1576.9 922.1L1578.3 924.1L1579.8 924.1L1581.2 922.6L1582.6 921.9L1584.1 923.3L1585.5 924.5L1586.9 924.6L1588.4 925.1L1589.8 926.0L1591.2 925.3L1592.7 924.8L1594.1 926.0L1595.5 927.0L1597.0 927.4L1598.4 926.8L1599.8 923.9L1601.2 921.3L1602.7 922.0L1604.1 923.6L1605.5 924.1L1607.0 924.5L1608.4 925.6L1609.8 926.3L1611.3 926.2L1612.7 926.0L1614.1 926.8L1615.6 926.0L1617.0 925.4L1618.4 925.4L1619.8 923.7L1621.3 923.0L1622.7 925.0L1624.1 926.3L1625.6 924.8L1627.0 924.1L1628.4 923.2L1629.9 925.0L1631.3 925.5L1632.7 924.2L1634.2 919.4L1635.6 916.6L1637.0 917.1L1638.5 919.4L1639.9 920.3L1641.3 921.2L1642.7 922.6L1644.2 924.4L1645.6 924.1L1647.0 923.7L1648.5 924.4L1649.9 924.8L1651.3 923.4L1652.8 922.4L1654.2 924.0L1655.6 927.5L1657.1 928.7L1658.5 926.2L1659.9 924.7L1661.3 924.2L1662.8 923.2L1664.2 921.2L1665.6 920.9L1667.1 921.9L1668.5 923.8L1669.9 925.1L1671.4 923.8L1672.8 921.0L1674.2 919.6L1675.7 919.0L1677.1 918.6L1678.5 919.8L1680.0 920.3L1681.4 920.3L1682.8 921.6L1684.2 924.4L1685.7 924.9L1687.1 924.0L1688.5 923.7L1690.0 925.3L1691.4 925.5L1692.8 924.8L1694.3 926.5L1695.7 927.2L1697.1 925.6L1698.6 922.6L1700.0 921.7L1701.4 921.9L1702.8 923.2L1704.3 923.7L1705.7 924.2L1707.1 925.0L1708.6 926.2L1710.0 926.5L1711.4 925.4L1712.9 924.0L1714.3 923.5L1715.7 923.6L1717.2 923.0L1718.6 922.8L1720.0 923.7L1721.4 924.4L1722.9 923.3L1724.3 923.2L1725.7 923.9L1727.2 925.1L1728.6 925.6L1730.0 925.7L1731.5 925.3L1732.9 925.7L1734.3 924.3L1735.8 922.9L1737.2 922.2L1738.6 922.4L1740.1 923.4L1741.5 924.9L1742.9 924.9L1744.3 925.8L1745.8 926.3L1747.2 925.2L1748.6 925.7L1750.1 927.1L1751.5 926.6L1752.9 925.0L1754.4 924.4L1755.8 923.8L1757.2 923.7L1758.7 923.7L1760.1 923.8L1761.5 923.8L1762.9 923.4L1764.4 923.2L1765.8 922.0L1767.2 921.9L1768.7 921.6L1770.1 921.4L1771.5 922.2L1773.0 923.5L1774.4 923.3L1775.8 924.9L1777.3 926.2L1778.7 925.3L1780.1 924.0L1781.6 923.6L1783.0 922.3L1784.4 921.0L1785.8 922.2L1787.3 923.7L1788.7 924.1L1790.1 924.3L1791.6 923.2L1793.0 920.7L1794.4 919.7L1795.9 920.3L1797.3 921.3L1798.7 920.8L1800.2 914.8L1801.6 908.7L1803.0 903.2L1804.4 897.7L1805.9 893.1L1807.3 889.9L1808.7 887.2L1810.2 886.9L1811.6 889.3L1813.0 892.5L1814.5 896.5L1815.9 901.5L1817.3 906.9L1818.8 912.3L1820.2 917.8L1821.6 919.4L1823.1 919.1L1824.5 916.9L1825.9 915.1L1827.3 914.4L1828.8 914.2L1830.2 917.1L1831.6 920.8L1833.1 921.9L1834.5 921.9L1835.9 922.5L1837.4 922.1L1838.8 921.3L1840.2 921.7L1841.7 920.9L1843.1 920.0L1844.5 919.9L1845.9 920.3L1847.4 921.3L1848.8 921.0L1850.2 919.2L1851.7 918.1L1853.1 919.6L1854.5 921.5L1856.0 922.2L1857.4 920.2L1858.8 919.8L1860.3 919.9L1861.7 918.4L1863.1 917.2L1864.5 919.1L1866.0 920.8L1867.4 920.5L1868.8 919.2L1870.3 919.7L1871.7 920.0L1873.1 919.5L1874.6 919.4L1876.0 920.8L1877.4 921.3L1878.9 920.8L1880.3 920.9L1881.7 919.5L1883.2 918.0L1884.6 918.3L1886.0 919.3L1887.4 919.3L1888.9 920.0L1890.3 921.0L1891.7 920.8L1893.2 919.1L1894.6 918.5L1896.0 919.3L1897.5 919.0L1898.9 918.7L1900.3 920.0L1901.8 920.8L1903.2 918.9L1904.6 918.3L1906.0 920.4L1907.5 922.2L1908.9 922.2L1910.3 922.4L1911.8 921.9L1913.2 920.3L1914.6 921.0L1916.1 922.7L1917.5 921.9L1918.9 920.9L1920.4 920.7L1921.8 919.7L1923.2 919.9L1924.7 921.9L1926.1 921.8L1927.5 920.9L1928.9 921.4L1930.4 920.3L1931.8 918.3L1933.2 919.3L1934.7 921.4L1936.1 920.5L1937.5 919.9L1939.0 920.1L1940.4 920.7L1941.8 920.9L1943.3 921.8L1944.7 920.9L1946.1 921.0L1947.5 921.2L1949.0 920.5L1950.4 919.0L1951.8 918.8L1953.3 919.1L1954.7 919.5L1956.1 919.6L1957.6 920.3L1959.0 920.5L1960.4 919.7L1961.9 919.5L1963.3 920.2L1964.7 921.5L1966.2 920.9L1967.6 919.8L1969.0 920.3L1970.4 920.0L1971.9 919.0L1973.3 920.3L1974.7 921.4L1976.2 919.5L1977.6 916.7L1979.0 916.7L1980.5 918.3L1981.9 919.6L1983.3 920.1L1984.8 919.8L1986.2 919.0L1987.6 920.1L1989.0 922.7L1990.5 922.5L1991.9 919.3L1993.3 917.9L1994.8 919.4L1996.2 920.7L1997.6 919.8L1999.1 919.6L2000.5 919.5L2001.9 918.8L2003.4 917.5L2004.8 918.0L2006.2 919.1L2007.6 918.7L2009.1 918.7L2010.5 920.3L2011.9 920.5L2013.4 919.4L2014.8 918.8L2016.2 917.6L2017.7 916.4L2019.1 917.4L2020.5 918.3L2022.0 918.2L2023.4 917.0L2024.8 915.7L2026.3 917.3L2027.7 920.2L2029.1 919.9L2030.5 918.9L2032.0 919.6L2033.4 921.2L2034.8 922.4L2036.3 923.3L2037.7 923.1L2039.1 922.1L2040.6 920.7L2042.0 918.8L2043.4 917.8L2044.9 919.1L2046.3 921.0L2047.7 920.5L2049.1 917.9L2050.6 916.0L2052.0 915.8L2053.4 917.1L2054.9 917.4L2056.3 916.9L2057.7 916.8L2059.2 918.0L2060.6 918.8L2062.0 919.6L2063.5 920.5L2064.9 921.0L2066.3 920.3L2067.8 919.7L2069.2 921.2L2070.6 923.1L2072.0 921.3L2073.5 918.8L2074.9 918.9L2076.3 919.0L2077.8 919.8L2079.2 922.0L2080.6 922.2L2082.1 919.9L2083.5 919.1L2084.9 920.9L2086.4 921.4L2087.8 920.8L2089.2 920.2L2090.6 920.5L2092.1 920.8L2093.5 920.5L2094.9 920.1L2096.4 919.6L2097.8 918.9L2099.2 919.2L2100.7 920.5L2102.1 920.4L2103.5 918.1L2105.0 916.7L2106.4 918.0L2107.8 919.9L2109.2 920.5L2110.7 921.3L2112.1 922.4L2113.5 922.4L2115.0 921.7L2116.4 920.3L2117.8 919.0L2119.3 919.0L2120.7 918.9L2122.1 918.9L2123.6 919.3L2125.0 919.1L2126.4 918.1L2127.9 917.1L2129.3 918.3L2130.7 920.3L2132.1 920.0L2133.6 917.4L2135.0 917.1L2136.4 918.4L2137.9 920.3L2139.3 920.0L2140.7 918.7L2142.2 919.7L2143.6 921.5L2145.0 921.5L2146.5 920.6L2147.9 920.6L2149.3 921.4L2150.7 922.3L2152.2 922.4L2153.6 922.5L2155.0 923.1L2156.5 922.3L2157.9 920.3L2159.3 919.8L2160.8 920.6L2162.2 920.0L2163.6 919.2L2165.1 920.3L2166.5 914.5L2167.9 909.0L2169.4 903.7L2170.8 899.1L2172.2 894.5L2173.6 890.5L2175.1 888.9L2176.5 891.4L2177.9 894.2L2179.4 897.4L2180.8 901.6L2182.2 906.4L2183.7 910.8L2185.1 915.3L2186.5 921.2L2188.0 921.5L2189.4 919.7L2190.8 920.2L2192.2 922.1L2193.7 923.3L2195.1 922.6L2196.5 919.8L2198.0 917.7L2199.4 918.8L2200.8 920.5L2202.3 919.9L2203.7 918.7L2205.1 917.9"/>
<path id="fng4" class="tr" stroke="#e36c0a" stroke-width="5.3" d="M177.4 706.5L178.8 705.0L180.3 704.5L181.7 705.6L183.1 706.2L184.6 705.5L186.0 704.8L187.4 705.6L188.8 706.1L190.3 706.0L191.7 706.3L193.1 706.9L194.6 706.6L196.0 706.4L197.4 706.0L198.9 706.4L200.3 707.0L201.7 706.4L203.2 705.5L204.6 705.1L206.0 705.7L207.5 706.7L208.9 707.3L210.3 707.1L211.7 706.9L213.2 706.8L214.6 706.9L216.0 706.9L217.5 707.0L218.9 706.8L220.3 706.2L221.8 704.9L223.2 704.9L224.6 705.7L226.1 705.6L227.5 705.2L228.9 705.4L230.3 706.1L231.8 706.6L233.2 706.3L234.6 706.0L236.1 706.2L237.5 706.7L238.9 707.1L240.4 706.9L241.8 706.4L243.2 706.0L244.7 706.1L246.1 705.9L247.5 705.8L249.0 705.9L250.4 705.6L251.8 705.4L253.2 705.4L254.7 705.1L256.1 705.0L257.5 704.8L259.0 703.1L260.4 701.1L261.8 699.8L263.3 698.7L264.7 698.3L266.1 699.3L267.6 700.7L269.0 703.1L270.4 705.0L271.8 705.9L273.3 706.0L274.7 706.5L276.1 705.7L277.6 705.9L279.0 706.7L280.4 707.0L281.9 706.6L283.3 706.0L284.7 705.9L286.2 706.5L287.6 706.6L289.0 705.9L290.4 705.8L291.9 705.9L293.3 705.4L294.7 705.1L296.2 705.9L297.6 706.6L299.0 706.8L300.5 706.7L301.9 706.5L303.3 706.1L304.8 706.4L306.2 706.8L307.6 706.5L309.1 706.1L310.5 706.3L311.9 706.0L313.3 706.0L314.8 706.2L316.2 706.1L317.6 705.8L319.1 706.3L320.5 707.3L321.9 706.9L323.4 706.3L324.8 705.8L326.2 705.4L327.7 705.2L329.1 706.0L330.5 706.6L331.9 705.7L333.4 704.8L334.8 705.3L336.2 705.8L337.7 706.5L339.1 706.7L340.5 706.2L342.0 705.6L343.4 706.0L344.8 706.1L346.3 706.0L347.7 706.5L349.1 707.0L350.6 706.3L352.0 705.8L353.4 706.2L354.8 706.4L356.3 707.0L357.7 707.2L359.1 707.1L360.6 706.2L362.0 705.7L363.4 705.4L364.9 705.8L366.3 706.2L367.7 706.7L369.2 706.4L370.6 706.1L372.0 706.0L373.4 706.2L374.9 706.3L376.3 706.0L377.7 705.4L379.2 705.3L380.6 705.1L382.0 704.8L383.5 704.5L384.9 705.2L386.3 706.1L387.8 705.6L389.2 705.3L390.6 706.0L392.1 706.3L393.5 706.1L394.9 706.9L396.3 706.7L397.8 706.3L399.2 706.5L400.6 706.9L402.1 706.4L403.5 706.4L404.9 706.9L406.4 706.1L407.8 705.1L409.2 706.0L410.7 706.4L412.1 705.5L413.5 705.3L414.9 705.7L416.4 705.5L417.8 705.5L419.2 706.0L420.7 706.2L422.1 705.7L423.5 705.0L425.0 704.9L426.4 704.9L427.8 705.1L429.3 705.0L430.7 706.1L432.1 706.7L433.5 707.0L435.0 706.4L436.4 705.9L437.8 705.7L439.3 705.9L440.7 706.4L442.1 706.5L443.6 706.5L445.0 705.8L446.4 704.9L447.9 704.7L449.3 705.0L450.7 705.5L452.2 706.2L453.6 706.4L455.0 706.3L456.4 706.3L457.9 705.6L459.3 704.2L460.7 703.4L462.2 703.8L463.6 704.4L465.0 705.0L466.5 705.9L467.9 706.7L469.3 705.8L470.8 704.8L472.2 704.4L473.6 705.0L475.0 705.9L476.5 706.3L477.9 705.8L479.3 705.5L480.8 705.8L482.2 705.5L483.6 704.8L485.1 704.8L486.5 705.6L487.9 706.0L489.4 705.8L490.8 705.7L492.2 705.9L493.7 705.7L495.1 705.8L496.5 706.4L497.9 706.4L499.4 705.6L500.8 705.1L502.2 704.6L503.7 704.2L505.1 704.1L506.5 704.3L508.0 704.8L509.4 705.4L510.8 705.1L512.3 704.8L513.7 704.7L515.1 704.8L516.5 705.2L518.0 705.7L519.4 705.9L520.8 705.5L522.3 705.4L523.7 705.2L525.1 705.8L526.6 706.1L528.0 706.0L529.4 705.6L530.9 706.2L532.3 707.0L533.7 707.2L535.1 706.8L536.6 706.7L538.0 706.5L539.4 706.0L540.9 704.9L542.3 704.8L543.7 704.7L545.2 704.9L546.6 704.7L548.0 705.3L549.5 706.3L550.9 707.1L552.3 707.0L553.8 706.7L555.2 706.2L556.6 706.0L558.0 705.2L559.5 704.3L560.9 704.2L562.3 705.2L563.8 705.5L565.2 705.1L566.6 705.1L568.1 705.6L569.5 706.1L570.9 705.9L572.4 704.9L573.8 705.1L575.2 706.3L576.6 706.5L578.1 706.1L579.5 706.0L580.9 706.1L582.4 705.8L583.8 705.8L585.2 706.3L586.7 707.1L588.1 707.3L589.5 706.7L591.0 706.3L592.4 705.9L593.8 705.6L595.3 705.3L596.7 705.1L598.1 704.9L599.5 704.7L601.0 705.1L602.4 705.9L603.8 706.4L605.3 705.5L606.7 704.9L608.1 704.7L609.6 704.3L611.0 704.1L612.4 704.3L613.9 705.0L615.3 705.9L616.7 706.8L618.1 706.1L619.6 704.7L621.0 704.6L622.4 705.8L623.9 706.6L625.3 706.3L626.7 706.0L628.2 706.1L629.6 706.6L631.0 706.4L632.5 705.3L633.9 704.7L635.3 705.2L636.8 705.9L638.2 706.0L639.6 705.7L641.0 705.6L642.5 705.4L643.9 705.1L645.3 705.3L646.8 706.4L648.2 706.4L649.6 705.6L651.1 705.0L652.5 705.0L653.9 705.1L655.4 705.7L656.8 706.0L658.2 705.8L659.6 705.7L661.1 705.2L662.5 704.5L663.9 705.3L665.4 705.9L666.8 705.2L668.2 704.8L669.7 705.6L671.1 706.0L672.5 705.3L674.0 705.4L675.4 705.3L676.8 704.4L678.2 703.9L679.7 704.0L681.1 704.4L682.5 706.1L684.0 704.4L685.4 700.0L686.8 696.8L688.3 695.1L689.7 693.5L691.1 694.1L692.6 696.3L694.0 698.8L695.4 701.2L696.9 704.6L698.3 706.1L699.7 706.1L701.1 705.6L702.6 705.7L704.0 706.2L705.4 706.4L706.9 705.6L708.3 704.9L709.7 705.1L711.2 705.4L712.6 705.5L714.0 706.3L715.5 707.1L716.9 706.8L718.3 706.4L719.7 706.0L721.2 705.5L722.6 705.4L724.0 704.3L725.5 703.7L726.9 704.3L728.3 705.0L729.8 705.8L731.2 706.7L732.6 705.8L734.1 704.9L735.5 704.5L736.9 703.8L738.4 704.4L739.8 705.6L741.2 704.9L742.6 703.9L744.1 704.6L745.5 705.5L746.9 705.6L748.4 705.4L749.8 705.6L751.2 705.8L752.7 705.5L754.1 705.2L755.5 705.2L757.0 705.6L758.4 705.8L759.8 705.7L761.2 705.1L762.7 705.1L764.1 705.9L765.5 706.0L767.0 704.9L768.4 704.3L769.8 705.0L771.3 705.5L772.7 705.4L774.1 705.4L775.6 705.4L777.0 705.2L778.4 704.7L779.9 704.7L781.3 705.2L782.7 705.1L784.1 703.9L785.6 703.7L787.0 705.6L788.4 706.4L789.9 705.6L791.3 704.7L792.7 704.5L794.2 704.8L795.6 705.3L797.0 705.1L798.5 704.6L799.9 705.2L801.3 705.8L802.7 706.4L804.2 705.9L805.6 705.7L807.0 705.7L808.5 705.0L809.9 704.8L811.3 705.3L812.8 705.5L814.2 705.9L815.6 706.9L817.1 706.7L818.5 706.3L819.9 706.1L821.4 704.9L822.8 703.8L824.2 704.4L825.6 705.2L827.1 705.4L828.5 705.8L829.9 706.6L831.4 706.6L832.8 705.5L834.2 705.1L835.7 705.3L837.1 705.4L838.5 706.3L840.0 707.3L841.4 707.4L842.8 706.3L844.2 705.1L845.7 704.8L847.1 705.2L848.5 705.7L850.0 705.9L851.4 705.4L852.8 704.6L854.3 704.7L855.7 705.0L857.1 705.0L858.6 705.0L860.0 705.0L861.4 705.3L862.8 705.7L864.3 705.6L865.7 705.1L867.1 704.9L868.6 704.7L870.0 704.7L871.4 705.0L872.9 705.1L874.3 704.5L875.7 704.1L877.2 704.4L878.6 704.9L880.0 705.9L881.5 707.1L882.9 706.1L884.3 703.8L885.7 703.9L887.2 705.1L888.6 704.7L890.0 703.6L891.5 703.6L892.9 704.2L894.3 704.6L895.8 704.6L897.2 704.8L898.6 704.7L900.1 704.5L901.5 704.7L902.9 705.7L904.3 705.8L905.8 705.0L907.2 705.3L908.6 705.7L910.1 704.7L911.5 704.2L912.9 705.2L914.4 705.7L915.8 705.7L917.2 705.6L918.7 705.4L920.1 705.2L921.5 705.3L923.0 705.4L924.4 705.8L925.8 706.1L927.2 706.4L928.7 706.1L930.1 705.2L931.5 704.3L933.0 704.2L934.4 704.7L935.8 705.0L937.3 705.0L938.7 705.2L940.1 705.0L941.6 704.2L943.0 704.6L944.4 705.4L945.8 705.9L947.3 705.9L948.7 705.2L950.1 704.0L951.6 704.0L953.0 705.2L954.4 705.8L955.9 704.4L957.3 703.1L958.7 704.1L960.2 705.7L961.6 706.8L963.0 706.2L964.5 705.4L965.9 706.0L967.3 706.0L968.7 705.3L970.2 705.1L971.6 705.2L973.0 704.9L974.5 704.7L975.9 704.9L977.3 705.3L978.8 705.5L980.2 705.9L981.6 705.6L983.1 704.9L984.5 705.1L985.9 705.8L987.3 705.7L988.8 705.9L990.2 706.2L991.6 706.6L993.1 706.5L994.5 705.6L995.9 704.9L997.4 705.3L998.8 706.3L1000.2 706.4L1001.7 706.0L1003.1 705.6L1004.5 705.0L1005.9 704.0L1007.4 703.8L1008.8 704.9L1010.2 705.6L1011.7 705.2L1013.1 704.8L1014.5 705.4L1016.0 705.6L1017.4 705.1L1018.8 704.9L1020.3 705.5L1021.7 705.9L1023.1 705.5L1024.6 704.8L1026.0 704.3L1027.4 704.3L1028.8 705.0L1030.3 705.6L1031.7 705.3L1033.1 704.4L1034.6 704.1L1036.0 704.6L1037.4 705.5L1038.9 705.7L1040.3 705.8L1041.7 706.0L1043.2 705.9L1044.6 705.7L1046.0 704.7L1047.4 704.3L1048.9 704.5L1050.3 705.0L1051.7 704.7L1053.2 704.6L1054.6 704.3L1056.0 704.4L1057.5 704.4L1058.9 704.9L1060.3 705.3L1061.8 705.3L1063.2 704.8L1064.6 704.6L1066.1 704.4L1067.5 704.2L1068.9 704.3L1070.3 704.6L1071.8 674.5L1073.2 641.2L1074.6 611.7L1076.1 585.7L1077.5 563.0L1078.9 543.8L1080.4 528.4L1081.8 516.9L1083.2 509.6L1084.7 506.5L1086.1 507.8L1087.5 512.4L1088.9 520.3L1090.4 531.8L1091.8 546.4L1093.2 563.9L1094.7 584.2L1096.1 607.5L1097.5 633.5L1099.0 662.3L1100.4 693.3L1101.8 703.9L1103.3 704.1L1104.7 704.1L1106.1 704.2L1107.6 704.9L1109.0 705.3L1110.4 704.9L1111.8 704.2L1113.3 704.3L1114.7 704.8L1116.1 705.2L1117.6 705.6L1119.0 705.8L1120.4 705.8L1121.9 705.3L1123.3 705.0L1124.7 704.5L1126.2 704.7L1127.6 705.4L1129.0 705.5L1130.4 704.4L1131.9 704.0L1133.3 704.6L1134.7 705.0L1136.2 704.3L1137.6 703.2L1139.0 703.6L1140.5 704.8L1141.9 704.5L1143.3 704.2L1144.8 704.6L1146.2 704.9L1147.6 704.7L1149.0 704.6L1150.5 704.8L1151.9 704.5L1153.3 703.0L1154.8 702.7L1156.2 703.2L1157.6 703.5L1159.1 703.9L1160.5 704.9L1161.9 704.6L1163.4 704.4L1164.8 704.6L1166.2 704.7L1167.7 704.3L1169.1 704.2L1170.5 704.7L1171.9 705.2L1173.4 705.0L1174.8 704.3L1176.2 704.4L1177.7 704.6L1179.1 704.5L1180.5 704.3L1182.0 704.5L1183.4 704.7L1184.8 705.0L1186.3 705.0L1187.7 704.8L1189.1 704.6L1190.5 704.8L1192.0 704.9L1193.4 705.0L1194.8 704.4L1196.3 703.6L1197.7 703.7L1199.1 703.7L1200.6 703.2L1202.0 702.9L1203.4 703.7L1204.9 705.0L1206.3 705.4L1207.7 704.7L1209.2 704.0L1210.6 704.4L1212.0 705.8L1213.4 706.1L1214.9 704.7L1216.3 704.0L1217.7 703.8L1219.2 703.6L1220.6 703.2L1222.0 703.0L1223.5 703.2L1224.9 703.6L1226.3 703.9L1227.8 704.0L1229.2 704.2L1230.6 704.7L1232.0 705.3L1233.5 703.3L1234.9 686.7L1236.3 672.7L1237.8 660.5L1239.2 650.6L1240.6 642.7L1242.1 637.0L1243.5 634.5L1244.9 636.9L1246.4 642.0L1247.8 649.4L1249.2 658.8L1250.7 669.9L1252.1 682.5L1253.5 696.9L1254.9 705.1L1256.4 705.2L1257.8 705.0L1259.2 704.1L1260.7 700.9L1262.1 698.1L1263.5 695.1L1265.0 693.0L1266.4 691.5L1267.8 692.8L1269.3 695.8L1270.7 699.6L1272.1 702.3L1273.5 704.1L1275.0 704.6L1276.4 706.0L1277.8 706.1L1279.3 705.4L1280.7 705.2L1282.1 705.3L1283.6 705.3L1285.0 705.2L1286.4 705.4L1287.9 705.6L1289.3 705.9L1290.7 705.6L1292.1 705.0L1293.6 705.1L1295.0 705.9L1296.4 706.0L1297.9 706.1L1299.3 706.5L1300.7 706.6L1302.2 706.3L1303.6 706.4L1305.0 706.7L1306.5 706.9L1307.9 706.7L1309.3 706.7L1310.8 706.9L1312.2 707.4L1313.6 707.9L1315.0 707.5L1316.5 706.8L1317.9 706.9L1319.3 707.2L1320.8 706.7L1322.2 706.7L1323.6 706.9L1325.1 706.9L1326.5 706.9L1327.9 707.1L1329.4 707.0L1330.8 706.5L1332.2 706.4L1333.6 705.8L1335.1 705.7L1336.5 706.4L1337.9 707.6L1339.4 707.4L1340.8 707.5L1342.2 707.8L1343.7 707.8L1345.1 707.3L1346.5 706.7L1348.0 706.5L1349.4 706.7L1350.8 707.2L1352.3 708.0L1353.7 707.7L1355.1 706.7L1356.5 706.3L1358.0 707.0L1359.4 707.4L1360.8 707.2L1362.3 707.6L1363.7 707.8L1365.1 707.9L1366.6 708.0L1368.0 707.8L1369.4 707.1L1370.9 706.4L1372.3 706.8L1373.7 706.7L1375.1 706.3L1376.6 706.1L1378.0 706.9L1379.4 708.0L1380.9 708.3L1382.3 708.3L1383.7 708.5L1385.2 707.8L1386.6 706.7L1388.0 706.3L1389.5 706.8L1390.9 707.5L1392.3 707.9L1393.8 707.4L1395.2 707.1L1396.6 706.8L1398.0 706.9L1399.5 707.7L1400.9 708.3L1402.3 708.5L1403.8 708.4L1405.2 708.1L1406.6 707.7L1408.1 707.5L1409.5 707.7L1410.9 708.1L1412.4 708.0L1413.8 707.4L1415.2 707.4L1416.6 707.6L1418.1 708.1L1419.5 708.7L1420.9 708.0L1422.4 707.1L1423.8 707.3L1425.2 708.0L1426.7 708.2L1428.1 708.7L1429.5 709.4L1431.0 709.0L1432.4 707.7L1433.8 707.0L1435.2 706.8L1436.7 706.7L1438.1 707.0L1439.5 707.2L1441.0 707.1L1442.4 707.2L1443.8 707.6L1445.3 707.4L1446.7 707.0L1448.1 707.0L1449.6 707.7L1451.0 708.0L1452.4 707.1L1453.9 706.2L1455.3 706.2L1456.7 706.7L1458.1 706.7L1459.6 706.8L1461.0 706.7L1462.4 707.1L1463.9 707.6L1465.3 707.9L1466.7 707.9L1468.2 707.7L1469.6 707.8L1471.0 708.8L1472.5 708.8L1473.9 707.9L1475.3 706.9L1476.7 706.8L1478.2 706.8L1479.6 707.4L1481.0 708.1L1482.5 708.2L1483.9 708.1L1485.3 708.3L1486.8 707.1L1488.2 706.6L1489.6 707.8L1491.1 708.8L1492.5 708.4L1493.9 708.3L1495.4 707.6L1496.8 706.3L1498.2 706.6L1499.6 708.1L1501.1 709.0L1502.5 708.2L1503.9 706.9L1505.4 705.3L1506.8 704.2L1508.2 704.0L1509.7 704.6L1511.1 704.9L1512.5 705.5L1514.0 705.9L1515.4 706.8L1516.8 707.1L1518.2 707.1L1519.7 707.1L1521.1 707.7L1522.5 708.0L1524.0 707.6L1525.4 707.0L1526.8 706.8L1528.3 707.0L1529.7 707.0L1531.1 706.7L1532.6 706.6L1534.0 706.7L1535.4 706.9L1536.9 706.6L1538.3 705.8L1539.7 705.6L1541.1 706.7L1542.6 707.3L1544.0 707.5L1545.4 707.6L1546.9 707.5L1548.3 707.5L1549.7 707.9L1551.2 707.6L1552.6 707.1L1554.0 707.1L1555.5 706.8L1556.9 707.0L1558.3 707.4L1559.7 707.5L1561.2 707.1L1562.6 708.0L1564.0 709.1L1565.5 709.5L1566.9 708.5L1568.3 707.0L1569.8 706.4L1571.2 707.1L1572.6 707.9L1574.1 708.0L1575.5 708.2L1576.9 707.9L1578.3 707.7L1579.8 707.7L1581.2 708.2L1582.6 708.2L1584.1 707.7L1585.5 707.1L1586.9 707.5L1588.4 708.6L1589.8 708.9L1591.2 708.3L1592.7 707.5L1594.1 707.3L1595.5 707.3L1597.0 707.3L1598.4 707.5L1599.8 707.7L1601.2 708.2L1602.7 708.2L1604.1 707.4L1605.5 706.7L1607.0 706.6L1608.4 706.1L1609.8 705.8L1611.3 706.4L1612.7 707.4L1614.1 708.1L1615.6 707.6L1617.0 706.0L1618.4 705.7L1619.8 706.2L1621.3 706.2L1622.7 707.0L1624.1 707.6L1625.6 706.6L1627.0 706.0L1628.4 706.7L1629.9 706.8L1631.3 706.6L1632.7 706.8L1634.2 707.1L1635.6 706.3L1637.0 706.0L1638.5 706.3L1639.9 706.5L1641.3 706.8L1642.7 707.5L1644.2 707.1L1645.6 706.2L1647.0 706.2L1648.5 706.3L1649.9 705.7L1651.3 705.9L1652.8 706.3L1654.2 706.3L1655.6 706.1L1657.1 706.0L1658.5 706.0L1659.9 706.1L1661.3 706.7L1662.8 707.0L1664.2 707.2L1665.6 706.8L1667.1 706.2L1668.5 705.0L1669.9 704.6L1671.4 705.7L1672.8 706.1L1674.2 704.7L1675.7 703.7L1677.1 703.9L1678.5 704.7L1680.0 705.7L1681.4 706.1L1682.8 705.2L1684.2 705.0L1685.7 705.6L1687.1 705.3L1688.5 704.6L1690.0 705.2L1691.4 706.0L1692.8 705.5L1694.3 704.7L1695.7 704.8L1697.1 705.6L1698.6 706.4L1700.0 706.9L1701.4 706.4L1702.8 705.7L1704.3 704.9L1705.7 705.6L1707.1 705.6L1708.6 705.1L1710.0 705.1L1711.4 705.8L1712.9 705.6L1714.3 705.1L1715.7 705.0L1717.2 705.8L1718.6 706.3L1720.0 705.6L1721.4 705.2L1722.9 705.8L1724.3 706.7L1725.7 706.5L1727.2 706.2L1728.6 706.3L1730.0 706.5L1731.5 705.8L1732.9 705.5L1734.3 705.9L1735.8 706.3L1737.2 706.1L1738.6 705.6L1740.1 705.2L1741.5 704.6L1742.9 704.4L1744.3 705.0L1745.8 705.5L1747.2 705.6L1748.6 705.2L1750.1 705.2L1751.5 705.3L1752.9 705.7L1754.4 706.0L1755.8 706.8L1757.2 707.2L1758.7 706.6L1760.1 705.8L1761.5 705.4L1762.9 705.7L1764.4 705.7L1765.8 705.6L1767.2 705.2L1768.7 704.3L1770.1 703.8L1771.5 704.6L1773.0 705.4L1774.4 705.0L1775.8 703.6L1777.3 703.3L1778.7 704.9L1780.1 705.8L1781.6 705.0L1783.0 704.6L1784.4 704.8L1785.8 705.1L1787.3 705.7L1788.7 706.1L1790.1 705.4L1791.6 704.7L1793.0 704.6L1794.4 704.9L1795.9 705.3L1797.3 705.8L1798.7 705.8L1800.2 703.6L1801.6 697.4L1803.0 691.9L1804.4 687.0L1805.9 682.7L1807.3 679.2L1808.7 676.9L1810.2 677.0L1811.6 679.4L1813.0 682.6L1814.5 686.2L1815.9 690.8L1817.3 696.1L1818.8 701.5L1820.2 704.1L1821.6 704.2L1823.1 705.3L1824.5 706.3L1825.9 706.0L1827.3 705.8L1828.8 705.6L1830.2 704.9L1831.6 704.2L1833.1 704.5L1834.5 704.4L1835.9 703.9L1837.4 704.4L1838.8 704.4L1840.2 704.1L1841.7 704.7L1843.1 706.0L1844.5 706.1L1845.9 706.0L1847.4 705.9L1848.8 706.1L1850.2 706.1L1851.7 706.2L1853.1 706.4L1854.5 706.6L1856.0 706.4L1857.4 706.4L1858.8 706.4L1860.3 706.0L1861.7 706.0L1863.1 706.1L1864.5 706.0L1866.0 705.3L1867.4 705.5L1868.8 706.3L1870.3 706.4L1871.7 705.7L1873.1 705.5L1874.6 705.2L1876.0 705.6L1877.4 706.2L1878.9 705.6L1880.3 704.4L1881.7 704.5L1883.2 705.4L1884.6 705.4L1886.0 704.1L1887.4 702.5L1888.9 701.9L1890.3 702.3L1891.7 703.1L1893.2 703.3L1894.6 703.3L1896.0 703.6L1897.5 704.4L1898.9 704.8L1900.3 704.8L1901.8 704.8L1903.2 705.0L1904.6 705.6L1906.0 706.4L1907.5 706.5L1908.9 706.0L1910.3 705.4L1911.8 705.7L1913.2 706.3L1914.6 706.3L1916.1 704.9L1917.5 704.5L1918.9 705.5L1920.4 706.0L1921.8 704.9L1923.2 704.7L1924.7 705.5L1926.1 705.8L1927.5 705.6L1928.9 705.3L1930.4 705.1L1931.8 705.4L1933.2 706.1L1934.7 706.2L1936.1 705.4L1937.5 704.9L1939.0 704.9L1940.4 705.1L1941.8 705.3L1943.3 705.6L1944.7 705.8L1946.1 705.2L1947.5 705.0L1949.0 705.2L1950.4 705.8L1951.8 705.5L1953.3 705.2L1954.7 705.3L1956.1 705.8L1957.6 706.0L1959.0 705.5L1960.4 705.2L1961.9 706.0L1963.3 706.4L1964.7 705.9L1966.2 706.8L1967.6 708.1L1969.0 708.1L1970.4 706.9L1971.9 706.1L1973.3 705.1L1974.7 704.6L1976.2 704.7L1977.6 705.0L1979.0 705.0L1980.5 705.1L1981.9 704.6L1983.3 704.2L1984.8 705.3L1986.2 706.2L1987.6 706.2L1989.0 706.1L1990.5 706.4L1991.9 706.2L1993.3 706.1L1994.8 705.2L1996.2 705.3L1997.6 705.4L1999.1 705.0L2000.5 704.4L2001.9 704.9L2003.4 705.4L2004.8 705.5L2006.2 705.5L2007.6 705.3L2009.1 705.1L2010.5 705.3L2011.9 705.3L2013.4 705.2L2014.8 705.4L2016.2 705.9L2017.7 706.2L2019.1 706.5L2020.5 706.5L2022.0 705.6L2023.4 704.5L2024.8 704.4L2026.3 704.7L2027.7 705.0L2029.1 704.9L2030.5 704.8L2032.0 704.8L2033.4 704.6L2034.8 704.8L2036.3 704.8L2037.7 704.7L2039.1 705.2L2040.6 706.4L2042.0 707.2L2043.4 706.8L2044.9 706.0L2046.3 705.5L2047.7 705.5L2049.1 705.2L2050.6 704.9L2052.0 704.9L2053.4 705.7L2054.9 706.5L2056.3 706.0L2057.7 705.0L2059.2 704.8L2060.6 705.0L2062.0 705.3L2063.5 705.7L2064.9 706.5L2066.3 706.7L2067.8 706.5L2069.2 706.6L2070.6 706.7L2072.0 705.9L2073.5 705.3L2074.9 705.8L2076.3 706.0L2077.8 705.3L2079.2 705.7L2080.6 706.4L2082.1 706.3L2083.5 706.5L2084.9 706.8L2086.4 706.2L2087.8 705.4L2089.2 704.9L2090.6 705.3L2092.1 705.4L2093.5 704.6L2094.9 704.3L2096.4 704.9L2097.8 705.1L2099.2 704.9L2100.7 704.9L2102.1 705.4L2103.5 706.8L2105.0 706.8L2106.4 705.8L2107.8 705.4L2109.2 705.4L2110.7 705.2L2112.1 705.3L2113.5 705.4L2115.0 705.3L2116.4 705.3L2117.8 705.7L2119.3 705.4L2120.7 705.2L2122.1 705.6L2123.6 705.9L2125.0 705.7L2126.4 705.7L2127.9 705.6L2129.3 705.4L2130.7 705.5L2132.1 705.9L2133.6 705.8L2135.0 705.2L2136.4 705.0L2137.9 704.9L2139.3 705.1L2140.7 705.3L2142.2 705.6L2143.6 705.6L2145.0 705.4L2146.5 705.5L2147.9 705.8L2149.3 705.9L2150.7 706.0L2152.2 706.4L2153.6 706.4L2155.0 706.5L2156.5 707.0L2157.9 707.1L2159.3 706.3L2160.8 705.7L2162.2 705.2L2163.6 705.5L2165.1 705.2L2166.5 701.3L2167.9 697.0L2169.4 693.5L2170.8 690.4L2172.2 688.0L2173.6 685.7L2175.1 684.6L2176.5 686.5L2177.9 688.8L2179.4 691.2L2180.8 693.9L2182.2 697.4L2183.7 700.8L2185.1 703.9L2186.5 705.1L2188.0 705.5L2189.4 705.4L2190.8 705.2L2192.2 705.0L2193.7 705.0L2195.1 704.6L2196.5 704.6L2198.0 705.3L2199.4 705.8L2200.8 705.8L2202.3 705.7L2203.7 706.0L2205.1 706.8"/>
<path id="fng8" class="tr" stroke="#7f7f7f" stroke-width="5.3" d="M177.4 478.9L178.8 478.7L180.3 478.7L181.7 478.9L183.1 479.2L184.6 479.1L186.0 479.5L187.4 479.0L188.8 478.1L190.3 478.4L191.7 479.6L193.1 479.1L194.6 478.9L196.0 479.4L197.4 480.3L198.9 480.0L200.3 479.3L201.7 479.0L203.2 479.7L204.6 479.9L206.0 479.9L207.5 480.1L208.9 480.5L210.3 480.3L211.7 479.7L213.2 479.4L214.6 478.8L216.0 478.5L217.5 478.6L218.9 479.2L220.3 480.1L221.8 480.3L223.2 478.8L224.6 478.2L226.1 479.8L227.5 480.7L228.9 480.8L230.3 481.6L231.8 481.7L233.2 480.3L234.6 479.5L236.1 480.2L237.5 481.1L238.9 481.0L240.4 480.5L241.8 480.8L243.2 480.3L244.7 480.0L246.1 480.2L247.5 480.5L249.0 480.4L250.4 480.6L251.8 481.2L253.2 481.6L254.7 481.5L256.1 481.6L257.5 482.2L259.0 481.3L260.4 477.8L261.8 475.1L263.3 472.5L264.7 470.5L266.1 471.9L267.6 474.2L269.0 476.2L270.4 478.9L271.8 481.8L273.3 481.8L274.7 482.5L276.1 482.6L277.6 482.1L279.0 481.9L280.4 483.1L281.9 484.0L283.3 484.0L284.7 483.3L286.2 482.6L287.6 482.3L289.0 482.8L290.4 483.3L291.9 483.9L293.3 484.5L294.7 484.0L296.2 482.8L297.6 482.6L299.0 482.8L300.5 482.7L301.9 482.6L303.3 483.0L304.8 483.3L306.2 483.3L307.6 483.5L309.1 483.7L310.5 483.7L311.9 483.2L313.3 482.7L314.8 482.3L316.2 482.4L317.6 483.0L319.1 482.9L320.5 483.0L321.9 483.0L323.4 483.5L324.8 483.5L326.2 483.4L327.7 483.1L329.1 483.1L330.5 482.9L331.9 482.8L333.4 483.9L334.8 484.2L336.2 484.0L337.7 483.4L339.1 483.0L340.5 482.1L342.0 482.7L343.4 483.3L344.8 483.0L346.3 482.6L347.7 483.0L349.1 483.7L350.6 483.3L352.0 483.2L353.4 483.9L354.8 484.0L356.3 483.0L357.7 482.8L359.1 483.1L360.6 483.2L362.0 483.4L363.4 483.4L364.9 482.4L366.3 481.3L367.7 481.4L369.2 481.9L370.6 482.6L372.0 483.7L373.4 484.4L374.9 484.1L376.3 484.0L377.7 484.3L379.2 483.5L380.6 482.3L382.0 481.8L383.5 482.1L384.9 482.3L386.3 482.3L387.8 482.9L389.2 483.2L390.6 482.6L392.1 481.9L393.5 481.8L394.9 482.3L396.3 483.3L397.8 483.7L399.2 483.0L400.6 482.9L402.1 482.8L403.5 482.0L404.9 481.5L406.4 482.0L407.8 482.4L409.2 482.6L410.7 483.5L412.1 485.0L413.5 485.1L414.9 483.3L416.4 481.9L417.8 481.8L419.2 482.8L420.7 483.5L422.1 483.6L423.5 483.7L425.0 482.8L426.4 481.3L427.8 480.9L429.3 481.7L430.7 482.6L432.1 482.9L433.5 482.7L435.0 482.1L436.4 481.9L437.8 482.5L439.3 482.6L440.7 481.9L442.1 481.3L443.6 481.3L445.0 481.6L446.4 481.6L447.9 481.7L449.3 481.8L450.7 482.1L452.2 483.2L453.6 483.5L455.0 482.5L456.4 482.7L457.9 483.8L459.3 483.5L460.7 482.5L462.2 482.2L463.6 481.5L465.0 480.3L466.5 479.8L467.9 480.4L469.3 481.7L470.8 482.4L472.2 481.9L473.6 481.2L475.0 481.2L476.5 481.8L477.9 481.9L479.3 482.1L480.8 482.2L482.2 482.2L483.6 482.2L485.1 482.3L486.5 481.3L487.9 480.5L489.4 480.9L490.8 481.2L492.2 481.2L493.7 482.0L495.1 482.1L496.5 481.5L497.9 480.7L499.4 480.3L500.8 480.6L502.2 480.8L503.7 481.1L505.1 481.3L506.5 481.4L508.0 482.1L509.4 482.6L510.8 481.9L512.3 481.6L513.7 481.5L515.1 481.0L516.5 481.1L518.0 482.0L519.4 481.8L520.8 481.1L522.3 480.7L523.7 481.1L525.1 482.3L526.6 483.1L528.0 482.6L529.4 481.6L530.9 480.9L532.3 480.1L533.7 480.1L535.1 481.0L536.6 480.9L538.0 479.8L539.4 479.6L540.9 479.9L542.3 480.3L543.7 481.1L545.2 481.1L546.6 480.1L548.0 480.2L549.5 481.0L550.9 481.1L552.3 480.4L553.8 479.9L555.2 480.2L556.6 480.8L558.0 480.8L559.5 480.3L560.9 480.0L562.3 480.2L563.8 480.2L565.2 479.7L566.6 479.6L568.1 480.3L569.5 481.0L570.9 481.2L572.4 481.2L573.8 481.3L575.2 481.1L576.6 480.1L578.1 479.5L579.5 480.2L580.9 480.5L582.4 479.2L583.8 478.3L585.2 478.8L586.7 479.7L588.1 479.7L589.5 479.3L591.0 479.2L592.4 479.5L593.8 479.8L595.3 480.3L596.7 480.1L598.1 479.7L599.5 480.1L601.0 480.1L602.4 479.8L603.8 479.6L605.3 479.5L606.7 479.3L608.1 479.8L609.6 480.8L611.0 480.8L612.4 480.8L613.9 481.1L615.3 481.3L616.7 480.6L618.1 479.7L619.6 479.1L621.0 480.1L622.4 481.1L623.9 481.0L625.3 480.1L626.7 479.9L628.2 479.9L629.6 479.3L631.0 479.5L632.5 480.0L633.9 480.0L635.3 479.5L636.8 479.9L638.2 480.3L639.6 480.0L641.0 479.8L642.5 480.2L643.9 480.8L645.3 480.5L646.8 479.8L648.2 479.3L649.6 479.2L651.1 479.0L652.5 478.7L653.9 478.3L655.4 478.1L656.8 478.6L658.2 479.2L659.6 479.2L661.1 478.9L662.5 479.3L663.9 479.7L665.4 478.8L666.8 478.8L668.2 479.9L669.7 480.4L671.1 479.5L672.5 479.0L674.0 478.9L675.4 479.4L676.8 479.4L678.2 479.8L679.7 480.0L681.1 479.5L682.5 479.7L684.0 480.5L685.4 479.7L686.8 474.2L688.3 469.9L689.7 466.6L691.1 463.4L692.6 462.4L694.0 465.2L695.4 469.0L696.9 473.2L698.3 477.5L699.7 478.3L701.1 478.0L702.6 478.7L704.0 479.4L705.4 478.9L706.9 478.1L708.3 478.2L709.7 478.7L711.2 479.9L712.6 480.5L714.0 477.6L715.5 474.2L716.9 471.9L718.3 470.6L719.7 470.8L721.2 472.2L722.6 473.8L724.0 475.5L725.5 478.0L726.9 478.9L728.3 479.9L729.8 479.7L731.2 478.5L732.6 478.7L734.1 479.8L735.5 479.7L736.9 479.0L738.4 479.0L739.8 479.1L741.2 479.4L742.6 479.4L744.1 478.5L745.5 478.0L746.9 477.4L748.4 477.5L749.8 478.4L751.2 478.7L752.7 478.5L754.1 479.3L755.5 479.5L757.0 478.8L758.4 477.9L759.8 477.5L761.2 477.8L762.7 477.8L764.1 477.8L765.5 478.4L767.0 479.1L768.4 479.7L769.8 480.2L771.3 480.1L772.7 480.6L774.1 481.9L775.6 481.3L777.0 479.8L778.4 479.2L779.9 479.1L781.3 479.0L782.7 478.5L784.1 477.5L785.6 477.8L787.0 479.3L788.4 480.1L789.9 479.1L791.3 477.9L792.7 478.1L794.2 479.6L795.6 480.4L797.0 479.6L798.5 478.5L799.9 478.4L801.3 478.5L802.7 478.0L804.2 476.8L805.6 476.4L807.0 476.9L808.5 477.5L809.9 477.8L811.3 478.0L812.8 478.2L814.2 478.2L815.6 478.1L817.1 477.7L818.5 477.4L819.9 477.4L821.4 477.5L822.8 477.4L824.2 477.1L825.6 477.5L827.1 477.3L828.5 477.1L829.9 477.1L831.4 477.0L832.8 476.5L834.2 476.6L835.7 476.9L837.1 477.1L838.5 476.7L840.0 476.7L841.4 477.3L842.8 477.3L844.2 476.3L845.7 476.0L847.1 477.0L848.5 478.0L850.0 478.2L851.4 477.9L852.8 477.9L854.3 477.4L855.7 476.3L857.1 475.5L858.6 475.8L860.0 476.4L861.4 476.7L862.8 477.1L864.3 477.1L865.7 475.8L867.1 475.5L868.6 476.6L870.0 476.9L871.4 475.6L872.9 475.5L874.3 476.1L875.7 476.1L877.2 475.5L878.6 472.9L880.0 470.1L881.5 467.3L882.9 464.8L884.3 464.6L885.7 466.2L887.2 469.9L888.6 473.8L890.0 476.3L891.5 476.0L892.9 476.2L894.3 476.4L895.8 476.8L897.2 476.3L898.6 475.0L900.1 474.7L901.5 475.5L902.9 475.7L904.3 476.2L905.8 476.6L907.2 476.7L908.6 476.8L910.1 476.1L911.5 475.2L912.9 475.7L914.4 476.5L915.8 476.6L917.2 477.5L918.7 478.6L920.1 479.0L921.5 477.9L923.0 477.2L924.4 477.2L925.8 478.0L927.2 477.9L928.7 477.6L930.1 478.3L931.5 478.9L933.0 478.4L934.4 478.0L935.8 477.8L937.3 478.2L938.7 479.1L940.1 479.6L941.6 479.7L943.0 479.3L944.4 479.0L945.8 479.8L947.3 480.8L948.7 480.8L950.1 479.5L951.6 478.8L953.0 478.6L954.4 479.2L955.9 479.5L957.3 479.4L958.7 479.3L960.2 480.3L961.6 480.5L963.0 480.5L964.5 480.4L965.9 480.3L967.3 480.1L968.7 480.4L970.2 480.5L971.6 480.5L973.0 479.6L974.5 478.7L975.9 478.9L977.3 479.4L978.8 479.6L980.2 479.8L981.6 479.5L983.1 479.4L984.5 479.5L985.9 479.3L987.3 479.3L988.8 479.4L990.2 479.8L991.6 480.5L993.1 480.6L994.5 480.4L995.9 480.2L997.4 480.3L998.8 480.0L1000.2 480.1L1001.7 480.4L1003.1 480.4L1004.5 480.1L1005.9 480.0L1007.4 480.2L1008.8 480.7L1010.2 480.4L1011.7 480.5L1013.1 481.8L1014.5 482.2L1016.0 480.2L1017.4 477.1L1018.8 474.6L1020.3 472.7L1021.7 471.4L1023.1 472.2L1024.6 473.9L1026.0 476.8L1027.4 480.3L1028.8 481.9L1030.3 481.7L1031.7 482.3L1033.1 483.1L1034.6 482.3L1036.0 481.5L1037.4 481.4L1038.9 481.3L1040.3 481.0L1041.7 481.8L1043.2 483.0L1044.6 483.9L1046.0 483.8L1047.4 482.9L1048.9 482.7L1050.3 483.3L1051.7 483.1L1053.2 482.7L1054.6 483.0L1056.0 483.0L1057.5 482.6L1058.9 483.2L1060.3 483.2L1061.8 482.9L1063.2 483.2L1064.6 483.3L1066.1 483.1L1067.5 482.8L1068.9 477.2L1070.3 447.8L1071.8 421.8L1073.2 399.1L1074.6 379.4L1076.1 362.6L1077.5 348.7L1078.9 337.9L1080.4 330.2L1081.8 325.4L1083.2 323.8L1084.7 325.3L1086.1 329.0L1087.5 334.8L1088.9 343.1L1090.4 353.9L1091.8 366.9L1093.2 382.2L1094.7 400.1L1096.1 420.7L1097.5 443.5L1099.0 468.5L1100.4 482.2L1101.8 482.3L1103.3 481.9L1104.7 482.4L1106.1 482.8L1107.6 482.7L1109.0 481.8L1110.4 482.1L1111.8 483.2L1113.3 484.1L1114.7 483.2L1116.1 482.3L1117.6 481.8L1119.0 481.8L1120.4 481.8L1121.9 482.0L1123.3 482.6L1124.7 483.2L1126.2 482.7L1127.6 482.2L1129.0 482.1L1130.4 482.7L1131.9 483.1L1133.3 483.3L1134.7 482.5L1136.2 481.9L1137.6 482.2L1139.0 482.8L1140.5 482.9L1141.9 482.3L1143.3 481.4L1144.8 481.1L1146.2 481.5L1147.6 481.3L1149.0 481.5L1150.5 482.0L1151.9 482.3L1153.3 482.1L1154.8 482.4L1156.2 481.9L1157.6 480.6L1159.1 480.5L1160.5 481.9L1161.9 482.8L1163.4 482.6L1164.8 482.3L1166.2 482.4L1167.7 482.5L1169.1 482.3L1170.5 482.2L1171.9 482.4L1173.4 481.7L1174.8 481.2L1176.2 482.0L1177.7 482.6L1179.1 481.9L1180.5 481.6L1182.0 482.0L1183.4 482.3L1184.8 482.6L1186.3 483.0L1187.7 483.0L1189.1 482.5L1190.5 482.1L1192.0 481.6L1193.4 482.0L1194.8 482.5L1196.3 482.8L1197.7 482.5L1199.1 481.7L1200.6 481.2L1202.0 482.1L1203.4 483.1L1204.9 483.2L1206.3 483.3L1207.7 483.4L1209.2 482.6L1210.6 482.3L1212.0 482.7L1213.4 483.4L1214.9 483.7L1216.3 483.0L1217.7 482.3L1219.2 482.4L1220.6 483.1L1222.0 482.9L1223.5 482.4L1224.9 482.5L1226.3 483.0L1227.8 482.9L1229.2 483.0L1230.6 483.1L1232.0 483.0L1233.5 483.5L1234.9 481.5L1236.3 468.6L1237.8 458.1L1239.2 449.0L1240.6 441.2L1242.1 435.2L1243.5 431.0L1244.9 429.0L1246.4 430.8L1247.8 434.6L1249.2 440.1L1250.7 447.1L1252.1 455.6L1253.5 465.5L1254.9 476.5L1256.4 482.9L1257.8 482.1L1259.2 480.4L1260.7 478.9L1262.1 477.5L1263.5 476.3L1265.0 474.8L1266.4 475.0L1267.8 477.0L1269.3 479.3L1270.7 480.4L1272.1 481.3L1273.5 481.4L1275.0 481.3L1276.4 481.3L1277.8 481.1L1279.3 481.4L1280.7 481.4L1282.1 481.2L1283.6 481.1L1285.0 481.3L1286.4 481.4L1287.9 481.8L1289.3 481.9L1290.7 481.9L1292.1 481.7L1293.6 482.6L1295.0 483.5L1296.4 482.7L1297.9 481.8L1299.3 482.3L1300.7 482.1L1302.2 481.7L1303.6 481.5L1305.0 481.6L1306.5 481.6L1307.9 481.2L1309.3 481.0L1310.8 481.5L1312.2 482.5L1313.6 482.8L1315.0 482.2L1316.5 481.8L1317.9 482.7L1319.3 483.8L1320.8 483.2L1322.2 482.6L1323.6 482.9L1325.1 482.7L1326.5 482.2L1327.9 482.9L1329.4 482.8L1330.8 482.4L1332.2 482.4L1333.6 482.5L1335.1 481.9L1336.5 481.6L1337.9 482.2L1339.4 482.7L1340.8 482.3L1342.2 482.0L1343.7 482.6L1345.1 483.3L1346.5 482.8L1348.0 481.7L1349.4 481.8L1350.8 482.5L1352.3 482.1L1353.7 481.4L1355.1 481.5L1356.5 482.1L1358.0 482.4L1359.4 481.8L1360.8 480.6L1362.3 480.3L1363.7 481.0L1365.1 481.3L1366.6 480.9L1368.0 480.9L1369.4 481.3L1370.9 481.8L1372.3 482.3L1373.7 482.1L1375.1 481.4L1376.6 481.2L1378.0 481.7L1379.4 481.4L1380.9 480.4L1382.3 480.2L1383.7 481.3L1385.2 482.3L1386.6 482.4L1388.0 482.4L1389.5 483.1L1390.9 483.0L1392.3 482.6L1393.8 482.4L1395.2 482.3L1396.6 481.9L1398.0 482.0L1399.5 482.1L1400.9 482.1L1402.3 481.9L1403.8 481.8L1405.2 481.4L1406.6 481.3L1408.1 481.6L1409.5 481.7L1410.9 481.7L1412.4 481.6L1413.8 481.2L1415.2 481.2L1416.6 482.1L1418.1 482.9L1419.5 482.4L1420.9 481.6L1422.4 481.4L1423.8 481.4L1425.2 481.9L1426.7 482.7L1428.1 482.9L1429.5 482.4L1431.0 482.4L1432.4 482.7L1433.8 482.6L1435.2 481.8L1436.7 481.5L1438.1 482.3L1439.5 482.5L1441.0 482.4L1442.4 482.6L1443.8 482.6L1445.3 482.7L1446.7 482.9L1448.1 482.8L1449.6 482.5L1451.0 483.0L1452.4 482.8L1453.9 482.3L1455.3 482.0L1456.7 482.0L1458.1 481.7L1459.6 482.0L1461.0 482.5L1462.4 482.7L1463.9 482.3L1465.3 482.3L1466.7 482.3L1468.2 482.9L1469.6 482.6L1471.0 482.0L1472.5 481.1L1473.9 481.2L1475.3 482.0L1476.7 482.8L1478.2 482.5L1479.6 482.6L1481.0 483.1L1482.5 482.8L1483.9 482.0L1485.3 481.6L1486.8 482.0L1488.2 482.4L1489.6 481.9L1491.1 481.4L1492.5 482.0L1493.9 483.0L1495.4 482.6L1496.8 482.2L1498.2 482.6L1499.6 481.7L1501.1 481.1L1502.5 481.9L1503.9 482.4L1505.4 482.1L1506.8 482.0L1508.2 482.0L1509.7 482.0L1511.1 482.4L1512.5 482.8L1514.0 482.8L1515.4 482.9L1516.8 482.9L1518.2 482.7L1519.7 482.0L1521.1 482.0L1522.5 482.8L1524.0 483.4L1525.4 483.0L1526.8 482.5L1528.3 482.4L1529.7 482.4L1531.1 482.0L1532.6 481.9L1534.0 481.7L1535.4 482.1L1536.9 482.5L1538.3 482.7L1539.7 482.4L1541.1 482.4L1542.6 482.6L1544.0 481.5L1545.4 480.2L1546.9 480.6L1548.3 481.3L1549.7 481.7L1551.2 482.4L1552.6 482.5L1554.0 481.5L1555.5 481.0L1556.9 481.5L1558.3 481.4L1559.7 481.4L1561.2 481.7L1562.6 481.9L1564.0 481.0L1565.5 480.8L1566.9 481.3L1568.3 482.5L1569.8 482.7L1571.2 482.8L1572.6 482.5L1574.1 482.3L1575.5 481.7L1576.9 481.4L1578.3 480.1L1579.8 479.6L1581.2 480.3L1582.6 481.3L1584.1 481.2L1585.5 481.8L1586.9 482.1L1588.4 481.5L1589.8 481.4L1591.2 482.1L1592.7 482.2L1594.1 482.5L1595.5 482.9L1597.0 482.1L1598.4 481.1L1599.8 480.9L1601.2 481.4L1602.7 482.2L1604.1 482.9L1605.5 482.7L1607.0 482.6L1608.4 483.1L1609.8 482.9L1611.3 482.1L1612.7 481.6L1614.1 481.5L1615.6 480.6L1617.0 480.2L1618.4 480.7L1619.8 481.5L1621.3 482.4L1622.7 482.8L1624.1 482.9L1625.6 482.7L1627.0 481.9L1628.4 481.0L1629.9 481.0L1631.3 480.8L1632.7 480.5L1634.2 480.7L1635.6 481.0L1637.0 480.8L1638.5 480.7L1639.9 480.9L1641.3 481.2L1642.7 481.6L1644.2 481.7L1645.6 481.0L1647.0 481.6L1648.5 482.7L1649.9 482.1L1651.3 481.1L1652.8 481.4L1654.2 481.8L1655.6 482.1L1657.1 482.2L1658.5 482.1L1659.9 481.7L1661.3 481.2L1662.8 480.9L1664.2 481.3L1665.6 482.7L1667.1 483.1L1668.5 482.3L1669.9 482.1L1671.4 483.4L1672.8 483.3L1674.2 481.8L1675.7 481.0L1677.1 481.7L1678.5 482.5L1680.0 482.7L1681.4 482.8L1682.8 482.4L1684.2 482.4L1685.7 482.6L1687.1 482.7L1688.5 482.3L1690.0 482.4L1691.4 482.5L1692.8 482.4L1694.3 481.9L1695.7 481.8L1697.1 481.6L1698.6 480.8L1700.0 480.7L1701.4 481.5L1702.8 481.6L1704.3 481.6L1705.7 482.1L1707.1 482.2L1708.6 481.4L1710.0 481.4L1711.4 481.9L1712.9 482.4L1714.3 481.8L1715.7 482.0L1717.2 481.9L1718.6 482.0L1720.0 481.9L1721.4 482.1L1722.9 482.7L1724.3 482.4L1725.7 481.6L1727.2 481.1L1728.6 481.2L1730.0 481.6L1731.5 482.2L1732.9 482.0L1734.3 481.3L1735.8 480.8L1737.2 480.4L1738.6 480.7L1740.1 481.8L1741.5 482.2L1742.9 481.5L1744.3 480.6L1745.8 480.8L1747.2 481.8L1748.6 482.3L1750.1 481.9L1751.5 481.3L1752.9 481.8L1754.4 482.5L1755.8 481.6L1757.2 480.8L1758.7 480.8L1760.1 480.6L1761.5 479.7L1762.9 479.2L1764.4 479.1L1765.8 479.7L1767.2 480.9L1768.7 481.2L1770.1 480.8L1771.5 480.8L1773.0 480.9L1774.4 480.9L1775.8 480.6L1777.3 480.6L1778.7 480.8L1780.1 481.1L1781.6 481.2L1783.0 480.9L1784.4 480.0L1785.8 480.1L1787.3 481.3L1788.7 481.4L1790.1 480.5L1791.6 481.4L1793.0 482.7L1794.4 482.1L1795.9 480.7L1797.3 480.1L1798.7 480.1L1800.2 480.3L1801.6 476.6L1803.0 472.7L1804.4 468.7L1805.9 465.1L1807.3 462.2L1808.7 459.8L1810.2 460.1L1811.6 462.5L1813.0 464.6L1814.5 467.1L1815.9 470.9L1817.3 475.0L1818.8 479.3L1820.2 479.7L1821.6 479.3L1823.1 479.5L1824.5 479.5L1825.9 478.6L1827.3 478.9L1828.8 480.0L1830.2 480.5L1831.6 480.3L1833.1 480.4L1834.5 480.2L1835.9 480.0L1837.4 480.1L1838.8 480.1L1840.2 479.9L1841.7 480.0L1843.1 480.4L1844.5 481.1L1845.9 480.9L1847.4 479.4L1848.8 478.3L1850.2 478.7L1851.7 479.5L1853.1 480.1L1854.5 480.2L1856.0 479.6L1857.4 479.0L1858.8 478.9L1860.3 478.9L1861.7 479.3L1863.1 479.3L1864.5 478.6L1866.0 477.7L1867.4 478.1L1868.8 479.6L1870.3 479.7L1871.7 478.4L1873.1 477.9L1874.6 478.5L1876.0 478.9L1877.4 478.9L1878.9 478.6L1880.3 477.6L1881.7 477.1L1883.2 477.8L1884.6 479.0L1886.0 479.2L1887.4 478.9L1888.9 478.4L1890.3 478.0L1891.7 478.1L1893.2 478.4L1894.6 478.2L1896.0 478.2L1897.5 478.8L1898.9 479.0L1900.3 478.7L1901.8 479.2L1903.2 479.0L1904.6 478.1L1906.0 477.9L1907.5 478.3L1908.9 478.8L1910.3 479.5L1911.8 479.6L1913.2 479.4L1914.6 479.2L1916.1 479.4L1917.5 479.4L1918.9 479.2L1920.4 479.2L1921.8 479.6L1923.2 479.6L1924.7 479.7L1926.1 479.4L1927.5 479.4L1928.9 479.6L1930.4 479.7L1931.8 479.7L1933.2 480.7L1934.7 481.2L1936.1 480.2L1937.5 479.7L1939.0 479.9L1940.4 478.8L1941.8 477.3L1943.3 477.6L1944.7 478.9L1946.1 479.9L1947.5 480.8L1949.0 481.3L1950.4 481.4L1951.8 481.2L1953.3 480.2L1954.7 478.6L1956.1 478.7L1957.6 479.8L1959.0 480.5L1960.4 481.4L1961.9 482.1L1963.3 482.2L1964.7 482.1L1966.2 481.7L1967.6 480.9L1969.0 481.2L1970.4 481.3L1971.9 480.9L1973.3 481.5L1974.7 482.1L1976.2 481.7L1977.6 481.2L1979.0 480.7L1980.5 480.7L1981.9 481.5L1983.3 481.3L1984.8 480.4L1986.2 480.2L1987.6 481.1L1989.0 480.9L1990.5 480.0L1991.9 479.5L1993.3 479.1L1994.8 478.5L1996.2 478.7L1997.6 479.5L1999.1 480.1L2000.5 480.9L2001.9 481.0L2003.4 480.9L2004.8 480.7L2006.2 480.8L2007.6 481.3L2009.1 481.6L2010.5 481.2L2011.9 481.2L2013.4 481.2L2014.8 481.0L2016.2 480.4L2017.7 480.0L2019.1 479.8L2020.5 479.6L2022.0 480.3L2023.4 480.4L2024.8 479.8L2026.3 480.1L2027.7 480.7L2029.1 480.4L2030.5 480.3L2032.0 480.5L2033.4 480.6L2034.8 481.0L2036.3 481.9L2037.7 481.4L2039.1 480.2L2040.6 480.3L2042.0 481.2L2043.4 481.6L2044.9 481.7L2046.3 481.2L2047.7 480.7L2049.1 480.7L2050.6 480.8L2052.0 480.3L2053.4 479.8L2054.9 480.1L2056.3 480.2L2057.7 479.5L2059.2 480.0L2060.6 481.6L2062.0 481.8L2063.5 480.9L2064.9 480.3L2066.3 480.3L2067.8 479.8L2069.2 479.8L2070.6 480.3L2072.0 479.9L2073.5 478.4L2074.9 479.3L2076.3 480.6L2077.8 480.6L2079.2 480.1L2080.6 480.7L2082.1 480.6L2083.5 480.3L2084.9 479.7L2086.4 479.3L2087.8 479.4L2089.2 480.5L2090.6 480.9L2092.1 480.2L2093.5 479.8L2094.9 480.6L2096.4 480.4L2097.8 479.8L2099.2 480.0L2100.7 480.5L2102.1 481.1L2103.5 480.7L2105.0 479.4L2106.4 478.4L2107.8 478.7L2109.2 479.0L2110.7 479.4L2112.1 479.8L2113.5 479.4L2115.0 479.2L2116.4 479.6L2117.8 480.1L2119.3 480.2L2120.7 480.7L2122.1 481.2L2123.6 481.7L2125.0 481.1L2126.4 480.6L2127.9 479.9L2129.3 479.6L2130.7 479.6L2132.1 479.5L2133.6 479.1L2135.0 479.9L2136.4 480.5L2137.9 479.4L2139.3 478.8L2140.7 479.6L2142.2 480.0L2143.6 479.9L2145.0 480.0L2146.5 479.5L2147.9 479.5L2149.3 479.8L2150.7 480.3L2152.2 479.4L2153.6 478.1L2155.0 479.2L2156.5 480.6L2157.9 479.8L2159.3 478.4L2160.8 478.7L2162.2 479.0L2163.6 478.8L2165.1 478.5L2166.5 478.3L2167.9 474.7L2169.4 471.6L2170.8 468.5L2172.2 465.7L2173.6 463.6L2175.1 462.7L2176.5 463.7L2177.9 465.8L2179.4 468.3L2180.8 471.4L2182.2 474.6L2183.7 478.1L2185.1 480.8L2186.5 480.9L2188.0 479.7L2189.4 479.2L2190.8 479.4L2192.2 479.1L2193.7 479.2L2195.1 479.7L2196.5 479.7L2198.0 479.8L2199.4 479.8L2200.8 479.7L2202.3 480.1L2203.7 480.4L2205.1 479.6"/>
<g id="legend">
<path d="M274.7 107.7L322.9 59.5L371.1 107.7L322.9 155.9Z" fill="url(#bk1)" stroke="#1a1a1a" stroke-width="2.6" stroke-linejoin="miter"/>
<text class="sans" transform="matrix(1.3440 0 0 1.0500 391.82 142.55)" style="stroke-width:0.4px">-</text>
<text class="sans" transform="matrix(0.8685 0 0 0.8493 469.70 148.30)">Annite</text>
<rect x="868.80" y="83.40" width="75.70" height="79.40" rx="1.5" fill="url(#dm2)" stroke="#000" stroke-width="4.0"/>
<text class="sans" transform="matrix(1.3640 0 0 1.0500 965.14 153.95)" style="stroke-width:0.4px">-</text>
<text class="sans" transform="matrix(0.8566 0 0 0.8333 1041.62 158.70)">Quartz</text>
<ellipse cx="1509.50" cy="134.20" rx="34.65" ry="35.25" fill="url(#db3)" stroke="#333" stroke-width="3.3"/>
<text class="sans" transform="matrix(1.1440 0 0 1.0500 1565.92 170.35)" style="stroke-width:0.4px">-</text>
<text class="sans" transform="matrix(0.7491 0 0 0.8435 1629.85 169.70)">Cu</text>
<rect x="1889.70" y="111.70" width="62.10" height="57.90" rx="0" fill="url(#dt4)" stroke="#000" stroke-width="1.0"/>
<text class="sans" transform="matrix(1.0560 0 0 1.0500 1975.58 166.85)" style="stroke-width:0.4px">-</text>
<text class="sans" transform="matrix(0.7317 0 0 0.8638 2034.55 165.40)">Fe</text>
<ellipse cx="404.0" cy="220.3" rx="35.5" ry="37.8" fill="#000"/>
<text class="sans" transform="matrix(1.1560 0 0 1.0500 457.88 254.45)" style="stroke-width:0.4px">-</text>
<text class="sans" transform="matrix(0.8850 0 0 0.8609 523.10 255.10)">Albite</text>
<path d="M1571.80 193.82L1608.94 268.90L1534.26 268.90Z" fill="url(#dm5)" stroke="#000" stroke-width="2.2" stroke-linejoin="miter"/>
<path d="M1535.49 268.13H1607.71" stroke="#000" stroke-width="3.74" fill="none"/>
<text class="sans" transform="matrix(1.1240 0 0 1.0500 1636.20 275.65)" style="stroke-width:0.4px">-</text>
<text id="nbc" class="sans"><tspan class="sans" x="1699.21" y="275.90" textLength="124.54" lengthAdjust="spacingAndGlyphs" style="font-size:97.00px;stroke-width:0.6px;">Nb</tspan><tspan class="sans" x="1826.69" y="276.60" textLength="47.80" lengthAdjust="spacingAndGlyphs" style="font-size:84.00px;stroke-width:0.6px;">C</tspan></text>
</g>
<g id="markers">
<path d="M233.0 409.8L264.2 378.6L295.4 409.8L264.2 441.0Z" fill="url(#bk6)" stroke="#1a1a1a" stroke-width="2.4" stroke-linejoin="miter"/>
<rect x="670.20" y="390.90" width="48.70" height="45.70" rx="0" fill="url(#dm7)" stroke="#222" stroke-width="2.8"/>
<ellipse cx="725.7" cy="347.6" rx="25.2" ry="25.2" fill="#000"/>
<path d="M887.10 389.19L915.58 445.15L859.22 445.15Z" fill="url(#dm8)" stroke="#000" stroke-width="1.9" stroke-linejoin="miter"/>
<path d="M860.28 444.49H914.52" stroke="#000" stroke-width="3.23" fill="none"/>
<path d="M1021.80 398.39L1050.08 453.65L994.22 453.65Z" fill="url(#dm9)" stroke="#000" stroke-width="1.9" stroke-linejoin="miter"/>
<path d="M995.28 452.99H1049.02" stroke="#000" stroke-width="3.23" fill="none"/>
<ellipse cx="1083.00" cy="213.20" rx="27.80" ry="28.20" fill="url(#db10)" stroke="#333" stroke-width="3.2"/>
<ellipse cx="1251.50" cy="320.00" rx="27.80" ry="28.20" fill="url(#db11)" stroke="#333" stroke-width="3.2"/>
<ellipse cx="1832.40" cy="344.70" rx="27.80" ry="28.20" fill="url(#db12)" stroke="#333" stroke-width="3.2"/>
<rect x="1054.90" y="253.00" width="55.40" height="55.20" rx="0" fill="url(#dt13)" stroke="#000" stroke-width="1.0"/>
<rect x="1217.30" y="359.60" width="55.90" height="52.70" rx="0" fill="url(#dt14)" stroke="#000" stroke-width="1.0"/>
<rect x="1784.10" y="387.10" width="56.20" height="53.40" rx="0" fill="url(#dt15)" stroke="#000" stroke-width="1.0"/>
<rect x="2140.50" y="381.50" width="56.00" height="53.50" rx="0" fill="url(#dt16)" stroke="#000" stroke-width="1.0"/>
</g>
<g id="labels">
<text class="sans" transform="matrix(0.7740 0 0 0.8435 1456.81 427.80)">FNG8</text>
<text class="sans" transform="matrix(0.7715 0 0 0.8514 1456.33 652.50)">FNG4</text>
<text class="sans" transform="matrix(0.7677 0 0 0.8514 1456.36 863.75)">FNG2</text>
<text class="sans" transform="matrix(0.7657 0 0 0.8587 1456.87 1113.00)">FNG1</text>
<text class="sans" transform="matrix(0.7716 0 0 0.8514 1458.33 1319.25)">FNG0</text>
</g>
</g>
</svg>
</body>
</html>
